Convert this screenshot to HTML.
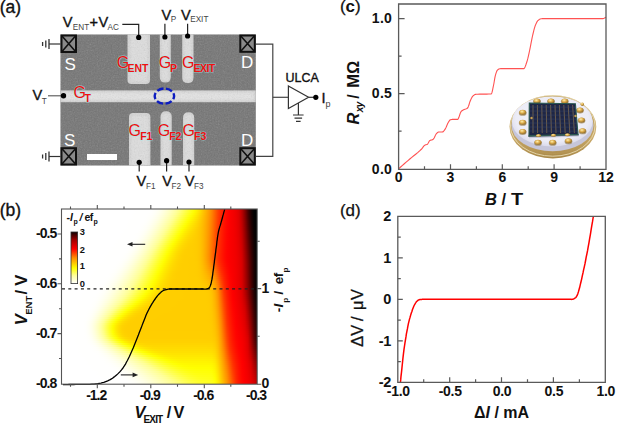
<!DOCTYPE html>
<html><head><meta charset="utf-8"><style>
html,body{margin:0;padding:0;background:#fff;width:617px;height:423px;overflow:hidden}
#wrap{position:relative;width:617px;height:423px}
#hm div{position:absolute;left:0;width:100%;height:2px}
svg{position:absolute;left:0;top:0}
text{font-family:"Liberation Sans",sans-serif}
</style></head><body><div id="wrap">
<div id="hm" style="position:absolute;left:61.5px;top:209.0px;width:195.7px;height:175.2px;overflow:hidden"><div style="top:0px;background:linear-gradient(90deg,#ffffff 0.0px,#ffffff 3.0px,#ffffff 6.0px,#ffffff 9.0px,#ffffff 12.0px,#ffffff 15.0px,#ffffff 18.0px,#ffffff 21.0px,#ffffff 24.0px,#ffffff 27.0px,#ffffff 30.0px,#ffffff 33.0px,#ffffff 36.0px,#ffffff 39.0px,#ffffff 42.0px,#ffffff 45.0px,#ffffff 48.0px,#ffffff 51.0px,#ffffff 54.0px,#ffffff 57.0px,#ffffff 60.0px,#ffffff 63.0px,#ffffff 66.0px,#ffffff 69.0px,#ffffff 72.0px,#fffffe 75.0px,#fffffe 78.0px,#fffffe 81.0px,#fffffe 84.0px,#fffffe 87.0px,#fffffd 90.0px,#fffff9 93.0px,#fffff4 96.0px,#ffffeb 99.0px,#ffffe0 102.0px,#ffffd3 105.0px,#ffffc4 108.0px,#ffffb3 111.0px,#ffffa2 114.0px,#ffff8c 117.0px,#ffff70 120.0px,#ffff54 123.0px,#ffff38 126.0px,#ffff1e 129.0px,#ffff03 132.0px,#fff100 135.0px,#ffde00 138.0px,#ffc800 141.0px,#ffb400 144.0px,#ff9e00 147.0px,#ff8400 150.0px,#ff6200 153.0px,#ff4100 156.0px,#ff2800 159.0px,#ff1600 162.0px,#ff0700 165.0px,#fc0000 168.0px,#f50000 171.0px,#ec0000 174.0px,#dd0000 177.0px,#b80000 180.0px,#830000 183.0px,#440000 186.0px,#170000 189.0px,#000000 192.0px,#000000 195.0px)"></div><div style="top:2px;background:linear-gradient(90deg,#ffffff 0.0px,#ffffff 3.0px,#ffffff 6.0px,#ffffff 9.0px,#ffffff 12.0px,#ffffff 15.0px,#ffffff 18.0px,#ffffff 21.0px,#ffffff 24.0px,#ffffff 27.0px,#ffffff 30.0px,#ffffff 33.0px,#ffffff 36.0px,#ffffff 39.0px,#ffffff 42.0px,#ffffff 45.0px,#ffffff 48.0px,#ffffff 51.0px,#ffffff 54.0px,#ffffff 57.0px,#ffffff 60.0px,#ffffff 63.0px,#ffffff 66.0px,#ffffff 69.0px,#ffffff 72.0px,#fffffe 75.0px,#fffffe 78.0px,#fffffe 81.0px,#fffffe 84.0px,#fffffe 87.0px,#fffffc 90.0px,#fffff8 93.0px,#fffff1 96.0px,#ffffe8 99.0px,#ffffdc 102.0px,#ffffce 105.0px,#ffffbf 108.0px,#ffffae 111.0px,#ffff9c 114.0px,#ffff84 117.0px,#ffff67 120.0px,#ffff4b 123.0px,#ffff30 126.0px,#ffff16 129.0px,#fffc00 132.0px,#ffed00 135.0px,#ffdb00 138.0px,#ffc600 141.0px,#ffb200 144.0px,#ff9c00 147.0px,#ff8200 150.0px,#ff6100 153.0px,#ff4100 156.0px,#ff2700 159.0px,#ff1500 162.0px,#ff0700 165.0px,#fc0000 168.0px,#f50000 171.0px,#ec0000 174.0px,#dd0000 177.0px,#b90000 180.0px,#840000 183.0px,#460000 186.0px,#180000 189.0px,#000000 192.0px,#000000 195.0px)"></div><div style="top:4px;background:linear-gradient(90deg,#ffffff 0.0px,#ffffff 3.0px,#ffffff 6.0px,#ffffff 9.0px,#ffffff 12.0px,#ffffff 15.0px,#ffffff 18.0px,#ffffff 21.0px,#ffffff 24.0px,#ffffff 27.0px,#ffffff 30.0px,#ffffff 33.0px,#ffffff 36.0px,#ffffff 39.0px,#ffffff 42.0px,#ffffff 45.0px,#ffffff 48.0px,#ffffff 51.0px,#ffffff 54.0px,#ffffff 57.0px,#ffffff 60.0px,#ffffff 63.0px,#ffffff 66.0px,#ffffff 69.0px,#fffffe 72.0px,#fffffe 75.0px,#fffffe 78.0px,#fffffe 81.0px,#fffffe 84.0px,#fffffd 87.0px,#fffffb 90.0px,#fffff6 93.0px,#ffffee 96.0px,#ffffe4 99.0px,#ffffd7 102.0px,#ffffc9 105.0px,#ffffb9 108.0px,#ffffa7 111.0px,#ffff95 114.0px,#ffff79 117.0px,#ffff5d 120.0px,#ffff41 123.0px,#ffff26 126.0px,#ffff0c 129.0px,#fff800 132.0px,#ffe900 135.0px,#ffd700 138.0px,#ffc400 141.0px,#ffb000 144.0px,#ff9b00 147.0px,#ff8100 150.0px,#ff6100 153.0px,#ff4000 156.0px,#ff2700 159.0px,#ff1500 162.0px,#ff0700 165.0px,#fc0000 168.0px,#f50000 171.0px,#ec0000 174.0px,#de0000 177.0px,#ba0000 180.0px,#850000 183.0px,#470000 186.0px,#190000 189.0px,#010000 192.0px,#000000 195.0px)"></div><div style="top:6px;background:linear-gradient(90deg,#ffffff 0.0px,#ffffff 3.0px,#ffffff 6.0px,#ffffff 9.0px,#ffffff 12.0px,#ffffff 15.0px,#ffffff 18.0px,#ffffff 21.0px,#ffffff 24.0px,#ffffff 27.0px,#ffffff 30.0px,#ffffff 33.0px,#ffffff 36.0px,#ffffff 39.0px,#ffffff 42.0px,#ffffff 45.0px,#ffffff 48.0px,#ffffff 51.0px,#ffffff 54.0px,#ffffff 57.0px,#ffffff 60.0px,#ffffff 63.0px,#ffffff 66.0px,#ffffff 69.0px,#fffffe 72.0px,#fffffe 75.0px,#fffffe 78.0px,#fffffe 81.0px,#fffffe 84.0px,#fffffc 87.0px,#fffff9 90.0px,#fffff3 93.0px,#ffffea 96.0px,#ffffdf 99.0px,#ffffd2 102.0px,#ffffc3 105.0px,#ffffb2 108.0px,#ffffa0 111.0px,#ffff8a 114.0px,#ffff6e 117.0px,#ffff51 120.0px,#ffff36 123.0px,#ffff1b 126.0px,#ffff02 129.0px,#fff200 132.0px,#ffe400 135.0px,#ffd300 138.0px,#ffc100 141.0px,#ffae00 144.0px,#ff9a00 147.0px,#ff8000 150.0px,#ff6000 153.0px,#ff3f00 156.0px,#ff2600 159.0px,#ff1500 162.0px,#ff0700 165.0px,#fc0000 168.0px,#f50000 171.0px,#ec0000 174.0px,#de0000 177.0px,#bb0000 180.0px,#870000 183.0px,#490000 186.0px,#1b0000 189.0px,#020000 192.0px,#000000 195.0px)"></div><div style="top:8px;background:linear-gradient(90deg,#ffffff 0.0px,#ffffff 3.0px,#ffffff 6.0px,#ffffff 9.0px,#ffffff 12.0px,#ffffff 15.0px,#ffffff 18.0px,#ffffff 21.0px,#ffffff 24.0px,#ffffff 27.0px,#ffffff 30.0px,#ffffff 33.0px,#ffffff 36.0px,#ffffff 39.0px,#ffffff 42.0px,#ffffff 45.0px,#ffffff 48.0px,#ffffff 51.0px,#ffffff 54.0px,#ffffff 57.0px,#ffffff 60.0px,#ffffff 63.0px,#ffffff 66.0px,#ffffff 69.0px,#fffffe 72.0px,#fffffe 75.0px,#fffffe 78.0px,#fffffe 81.0px,#fffffd 84.0px,#fffffb 87.0px,#fffff7 90.0px,#fffff0 93.0px,#ffffe6 96.0px,#ffffda 99.0px,#ffffcc 102.0px,#ffffbc 105.0px,#ffffab 108.0px,#ffff99 111.0px,#ffff7e 114.0px,#ffff62 117.0px,#ffff46 120.0px,#ffff2a 123.0px,#ffff10 126.0px,#fffa00 129.0px,#ffed00 132.0px,#ffe000 135.0px,#ffd000 138.0px,#ffbf00 141.0px,#ffad00 144.0px,#ff9900 147.0px,#ff7f00 150.0px,#ff5f00 153.0px,#ff3e00 156.0px,#ff2600 159.0px,#ff1400 162.0px,#ff0600 165.0px,#fc0000 168.0px,#f50000 171.0px,#ed0000 174.0px,#de0000 177.0px,#bc0000 180.0px,#880000 183.0px,#4b0000 186.0px,#1c0000 189.0px,#030000 192.0px,#000000 195.0px)"></div><div style="top:10px;background:linear-gradient(90deg,#ffffff 0.0px,#ffffff 3.0px,#ffffff 6.0px,#ffffff 9.0px,#ffffff 12.0px,#ffffff 15.0px,#ffffff 18.0px,#ffffff 21.0px,#ffffff 24.0px,#ffffff 27.0px,#ffffff 30.0px,#ffffff 33.0px,#ffffff 36.0px,#ffffff 39.0px,#ffffff 42.0px,#ffffff 45.0px,#ffffff 48.0px,#ffffff 51.0px,#ffffff 54.0px,#ffffff 57.0px,#ffffff 60.0px,#ffffff 63.0px,#ffffff 66.0px,#fffffe 69.0px,#fffffe 72.0px,#fffffe 75.0px,#fffffe 78.0px,#fffffe 81.0px,#fffffd 84.0px,#fffffa 87.0px,#fffff4 90.0px,#ffffec 93.0px,#ffffe2 96.0px,#ffffd4 99.0px,#ffffc5 102.0px,#ffffb5 105.0px,#ffffa3 108.0px,#ffff8f 111.0px,#ffff72 114.0px,#ffff56 117.0px,#ffff3a 120.0px,#ffff1f 123.0px,#ffff05 126.0px,#fff500 129.0px,#ffe900 132.0px,#ffdc00 135.0px,#ffcd00 138.0px,#ffbd00 141.0px,#ffac00 144.0px,#ff9800 147.0px,#ff7e00 150.0px,#ff5e00 153.0px,#ff3e00 156.0px,#ff2500 159.0px,#ff1400 162.0px,#ff0600 165.0px,#fc0000 168.0px,#f50000 171.0px,#ed0000 174.0px,#df0000 177.0px,#bd0000 180.0px,#8a0000 183.0px,#4e0000 186.0px,#1e0000 189.0px,#040000 192.0px,#000000 195.0px)"></div><div style="top:12px;background:linear-gradient(90deg,#ffffff 0.0px,#ffffff 3.0px,#ffffff 6.0px,#ffffff 9.0px,#ffffff 12.0px,#ffffff 15.0px,#ffffff 18.0px,#ffffff 21.0px,#ffffff 24.0px,#ffffff 27.0px,#ffffff 30.0px,#ffffff 33.0px,#ffffff 36.0px,#ffffff 39.0px,#ffffff 42.0px,#ffffff 45.0px,#ffffff 48.0px,#ffffff 51.0px,#ffffff 54.0px,#ffffff 57.0px,#ffffff 60.0px,#ffffff 63.0px,#ffffff 66.0px,#fffffe 69.0px,#fffffe 72.0px,#fffffe 75.0px,#fffffe 78.0px,#fffffe 81.0px,#fffffc 84.0px,#fffff8 87.0px,#fffff2 90.0px,#ffffe8 93.0px,#ffffdd 96.0px,#ffffcf 99.0px,#ffffbf 102.0px,#ffffae 105.0px,#ffff9c 108.0px,#ffff83 111.0px,#ffff66 114.0px,#ffff4a 117.0px,#ffff2e 120.0px,#ffff14 123.0px,#fffc00 126.0px,#ffef00 129.0px,#ffe400 132.0px,#ffd800 135.0px,#ffcb00 138.0px,#ffbc00 141.0px,#ffab00 144.0px,#ff9700 147.0px,#ff7d00 150.0px,#ff5d00 153.0px,#ff3d00 156.0px,#ff2500 159.0px,#ff1400 162.0px,#ff0600 165.0px,#fc0000 168.0px,#f50000 171.0px,#ed0000 174.0px,#df0000 177.0px,#bf0000 180.0px,#8c0000 183.0px,#500000 186.0px,#200000 189.0px,#050000 192.0px,#000000 195.0px)"></div><div style="top:14px;background:linear-gradient(90deg,#ffffff 0.0px,#ffffff 3.0px,#ffffff 6.0px,#ffffff 9.0px,#ffffff 12.0px,#ffffff 15.0px,#ffffff 18.0px,#ffffff 21.0px,#ffffff 24.0px,#ffffff 27.0px,#ffffff 30.0px,#ffffff 33.0px,#ffffff 36.0px,#ffffff 39.0px,#ffffff 42.0px,#ffffff 45.0px,#ffffff 48.0px,#ffffff 51.0px,#ffffff 54.0px,#ffffff 57.0px,#ffffff 60.0px,#ffffff 63.0px,#fffffe 66.0px,#fffffe 69.0px,#fffffe 72.0px,#fffffe 75.0px,#fffffe 78.0px,#fffffd 81.0px,#fffffb 84.0px,#fffff6 87.0px,#ffffee 90.0px,#ffffe4 93.0px,#ffffd7 96.0px,#ffffc8 99.0px,#ffffb8 102.0px,#ffffa6 105.0px,#ffff93 108.0px,#ffff77 111.0px,#ffff5a 114.0px,#ffff3e 117.0px,#ffff22 120.0px,#ffff09 123.0px,#fff600 126.0px,#ffea00 129.0px,#ffe000 132.0px,#ffd500 135.0px,#ffc900 138.0px,#ffbb00 141.0px,#ffaa00 144.0px,#ff9600 147.0px,#ff7c00 150.0px,#ff5c00 153.0px,#ff3c00 156.0px,#ff2400 159.0px,#ff1300 162.0px,#ff0600 165.0px,#fc0000 168.0px,#f50000 171.0px,#ed0000 174.0px,#e00000 177.0px,#c00000 180.0px,#8d0000 183.0px,#520000 186.0px,#210000 189.0px,#060000 192.0px,#000000 195.0px)"></div><div style="top:16px;background:linear-gradient(90deg,#ffffff 0.0px,#ffffff 3.0px,#ffffff 6.0px,#ffffff 9.0px,#ffffff 12.0px,#ffffff 15.0px,#ffffff 18.0px,#ffffff 21.0px,#ffffff 24.0px,#ffffff 27.0px,#ffffff 30.0px,#ffffff 33.0px,#ffffff 36.0px,#ffffff 39.0px,#ffffff 42.0px,#ffffff 45.0px,#ffffff 48.0px,#ffffff 51.0px,#ffffff 54.0px,#ffffff 57.0px,#ffffff 60.0px,#ffffff 63.0px,#fffffe 66.0px,#fffffe 69.0px,#fffffe 72.0px,#fffffe 75.0px,#fffffe 78.0px,#fffffc 81.0px,#fffff9 84.0px,#fffff3 87.0px,#ffffea 90.0px,#ffffdf 93.0px,#ffffd1 96.0px,#ffffc2 99.0px,#ffffb1 102.0px,#ffff9f 105.0px,#ffff87 108.0px,#ffff6b 111.0px,#ffff4e 114.0px,#ffff32 117.0px,#ffff17 120.0px,#fffe00 123.0px,#fff100 126.0px,#ffe600 129.0px,#ffdc00 132.0px,#ffd300 135.0px,#ffc800 138.0px,#ffba00 141.0px,#ffa900 144.0px,#ff9600 147.0px,#ff7b00 150.0px,#ff5b00 153.0px,#ff3b00 156.0px,#ff2400 159.0px,#ff1300 162.0px,#ff0500 165.0px,#fc0000 168.0px,#f60000 171.0px,#ed0000 174.0px,#e00000 177.0px,#c10000 180.0px,#8f0000 183.0px,#540000 186.0px,#230000 189.0px,#070000 192.0px,#000000 195.0px)"></div><div style="top:18px;background:linear-gradient(90deg,#ffffff 0.0px,#ffffff 3.0px,#ffffff 6.0px,#ffffff 9.0px,#ffffff 12.0px,#ffffff 15.0px,#ffffff 18.0px,#ffffff 21.0px,#ffffff 24.0px,#ffffff 27.0px,#ffffff 30.0px,#ffffff 33.0px,#ffffff 36.0px,#ffffff 39.0px,#ffffff 42.0px,#ffffff 45.0px,#ffffff 48.0px,#ffffff 51.0px,#ffffff 54.0px,#ffffff 57.0px,#ffffff 60.0px,#ffffff 63.0px,#fffffe 66.0px,#fffffe 69.0px,#fffffe 72.0px,#fffffe 75.0px,#fffffe 78.0px,#fffffb 81.0px,#fffff7 84.0px,#fffff0 87.0px,#ffffe6 90.0px,#ffffda 93.0px,#ffffcb 96.0px,#ffffbb 99.0px,#ffffaa 102.0px,#ffff97 105.0px,#ffff7b 108.0px,#ffff5e 111.0px,#ffff42 114.0px,#ffff26 117.0px,#ffff0c 120.0px,#fff800 123.0px,#ffec00 126.0px,#ffe200 129.0px,#ffd900 132.0px,#ffd000 135.0px,#ffc600 138.0px,#ffb900 141.0px,#ffa900 144.0px,#ff9500 147.0px,#ff7a00 150.0px,#ff5a00 153.0px,#ff3a00 156.0px,#ff2300 159.0px,#ff1200 162.0px,#ff0500 165.0px,#fc0000 168.0px,#f60000 171.0px,#ee0000 174.0px,#e00000 177.0px,#c30000 180.0px,#910000 183.0px,#560000 186.0px,#250000 189.0px,#080000 192.0px,#000000 195.0px)"></div><div style="top:20px;background:linear-gradient(90deg,#ffffff 0.0px,#ffffff 3.0px,#ffffff 6.0px,#ffffff 9.0px,#ffffff 12.0px,#ffffff 15.0px,#ffffff 18.0px,#ffffff 21.0px,#ffffff 24.0px,#ffffff 27.0px,#ffffff 30.0px,#ffffff 33.0px,#ffffff 36.0px,#ffffff 39.0px,#ffffff 42.0px,#ffffff 45.0px,#ffffff 48.0px,#ffffff 51.0px,#ffffff 54.0px,#ffffff 57.0px,#ffffff 60.0px,#fffffe 63.0px,#fffffe 66.0px,#fffffe 69.0px,#fffffe 72.0px,#fffffe 75.0px,#fffffd 78.0px,#fffffa 81.0px,#fffff5 84.0px,#ffffec 87.0px,#ffffe1 90.0px,#ffffd4 93.0px,#ffffc5 96.0px,#ffffb4 99.0px,#ffffa2 102.0px,#ffff8c 105.0px,#ffff6f 108.0px,#ffff52 111.0px,#ffff36 114.0px,#ffff1b 117.0px,#ffff01 120.0px,#fff200 123.0px,#ffe700 126.0px,#ffde00 129.0px,#ffd600 132.0px,#ffce00 135.0px,#ffc600 138.0px,#ffb900 141.0px,#ffa800 144.0px,#ff9500 147.0px,#ff7a00 150.0px,#ff5900 153.0px,#ff3900 156.0px,#ff2300 159.0px,#ff1200 162.0px,#ff0500 165.0px,#fb0000 168.0px,#f60000 171.0px,#ee0000 174.0px,#e10000 177.0px,#c40000 180.0px,#920000 183.0px,#580000 186.0px,#260000 189.0px,#090000 192.0px,#000000 195.0px)"></div><div style="top:22px;background:linear-gradient(90deg,#ffffff 0.0px,#ffffff 3.0px,#ffffff 6.0px,#ffffff 9.0px,#ffffff 12.0px,#ffffff 15.0px,#ffffff 18.0px,#ffffff 21.0px,#ffffff 24.0px,#ffffff 27.0px,#ffffff 30.0px,#ffffff 33.0px,#ffffff 36.0px,#ffffff 39.0px,#ffffff 42.0px,#ffffff 45.0px,#ffffff 48.0px,#ffffff 51.0px,#ffffff 54.0px,#ffffff 57.0px,#ffffff 60.0px,#fffffe 63.0px,#fffffe 66.0px,#fffffe 69.0px,#fffffe 72.0px,#fffffe 75.0px,#fffffc 78.0px,#fffff8 81.0px,#fffff2 84.0px,#ffffe8 87.0px,#ffffdc 90.0px,#ffffce 93.0px,#ffffbe 96.0px,#ffffad 99.0px,#ffff9a 102.0px,#ffff80 105.0px,#ffff63 108.0px,#ffff46 111.0px,#ffff2a 114.0px,#ffff0f 117.0px,#fffa00 120.0px,#ffed00 123.0px,#ffe300 126.0px,#ffda00 129.0px,#ffd400 132.0px,#ffcd00 135.0px,#ffc500 138.0px,#ffb900 141.0px,#ffa800 144.0px,#ff9400 147.0px,#ff7900 150.0px,#ff5900 153.0px,#ff3800 156.0px,#ff2300 159.0px,#ff1200 162.0px,#ff0500 165.0px,#fb0000 168.0px,#f60000 171.0px,#ee0000 174.0px,#e10000 177.0px,#c50000 180.0px,#940000 183.0px,#5b0000 186.0px,#280000 189.0px,#0a0000 192.0px,#000000 195.0px)"></div><div style="top:24px;background:linear-gradient(90deg,#ffffff 0.0px,#ffffff 3.0px,#ffffff 6.0px,#ffffff 9.0px,#ffffff 12.0px,#ffffff 15.0px,#ffffff 18.0px,#ffffff 21.0px,#ffffff 24.0px,#ffffff 27.0px,#ffffff 30.0px,#ffffff 33.0px,#ffffff 36.0px,#ffffff 39.0px,#ffffff 42.0px,#ffffff 45.0px,#ffffff 48.0px,#ffffff 51.0px,#ffffff 54.0px,#ffffff 57.0px,#fffffe 60.0px,#fffffe 63.0px,#fffffe 66.0px,#fffffe 69.0px,#fffffe 72.0px,#fffffd 75.0px,#fffffb 78.0px,#fffff6 81.0px,#ffffee 84.0px,#ffffe4 87.0px,#ffffd7 90.0px,#ffffc8 93.0px,#ffffb7 96.0px,#ffffa5 99.0px,#ffff91 102.0px,#ffff74 105.0px,#ffff57 108.0px,#ffff3a 111.0px,#ffff1e 114.0px,#ffff05 117.0px,#fff400 120.0px,#ffe800 123.0px,#ffdf00 126.0px,#ffd700 129.0px,#ffd200 132.0px,#ffcc00 135.0px,#ffc500 138.0px,#ffb800 141.0px,#ffa800 144.0px,#ff9400 147.0px,#ff7800 150.0px,#ff5800 153.0px,#ff3800 156.0px,#ff2200 159.0px,#ff1100 162.0px,#ff0400 165.0px,#fb0000 168.0px,#f60000 171.0px,#ee0000 174.0px,#e20000 177.0px,#c70000 180.0px,#960000 183.0px,#5d0000 186.0px,#2a0000 189.0px,#0b0000 192.0px,#000000 195.0px)"></div><div style="top:26px;background:linear-gradient(90deg,#ffffff 0.0px,#ffffff 3.0px,#ffffff 6.0px,#ffffff 9.0px,#ffffff 12.0px,#ffffff 15.0px,#ffffff 18.0px,#ffffff 21.0px,#ffffff 24.0px,#ffffff 27.0px,#ffffff 30.0px,#ffffff 33.0px,#ffffff 36.0px,#ffffff 39.0px,#ffffff 42.0px,#ffffff 45.0px,#ffffff 48.0px,#ffffff 51.0px,#ffffff 54.0px,#ffffff 57.0px,#fffffe 60.0px,#fffffe 63.0px,#fffffe 66.0px,#fffffe 69.0px,#fffffe 72.0px,#fffffd 75.0px,#fffff9 78.0px,#fffff3 81.0px,#ffffea 84.0px,#ffffdf 87.0px,#ffffd1 90.0px,#ffffc1 93.0px,#ffffb0 96.0px,#ffff9d 99.0px,#ffff85 102.0px,#ffff67 105.0px,#ffff4a 108.0px,#ffff2e 111.0px,#ffff13 114.0px,#fffb00 117.0px,#ffef00 120.0px,#ffe400 123.0px,#ffdb00 126.0px,#ffd500 129.0px,#ffd000 132.0px,#ffcc00 135.0px,#ffc500 138.0px,#ffb800 141.0px,#ffa700 144.0px,#ff9300 147.0px,#ff7700 150.0px,#ff5700 153.0px,#ff3700 156.0px,#ff2200 159.0px,#ff1100 162.0px,#ff0400 165.0px,#fb0000 168.0px,#f60000 171.0px,#ee0000 174.0px,#e20000 177.0px,#c80000 180.0px,#970000 183.0px,#5f0000 186.0px,#2b0000 189.0px,#0c0000 192.0px,#000000 195.0px)"></div><div style="top:28px;background:linear-gradient(90deg,#ffffff 0.0px,#ffffff 3.0px,#ffffff 6.0px,#ffffff 9.0px,#ffffff 12.0px,#ffffff 15.0px,#ffffff 18.0px,#ffffff 21.0px,#ffffff 24.0px,#ffffff 27.0px,#ffffff 30.0px,#ffffff 33.0px,#ffffff 36.0px,#ffffff 39.0px,#ffffff 42.0px,#ffffff 45.0px,#ffffff 48.0px,#ffffff 51.0px,#ffffff 54.0px,#ffffff 57.0px,#fffffe 60.0px,#fffffe 63.0px,#fffffe 66.0px,#fffffe 69.0px,#fffffe 72.0px,#fffffc 75.0px,#fffff7 78.0px,#fffff0 81.0px,#ffffe6 84.0px,#ffffda 87.0px,#ffffcb 90.0px,#ffffba 93.0px,#ffffa8 96.0px,#ffff96 99.0px,#ffff78 102.0px,#ffff5b 105.0px,#ffff3e 108.0px,#ffff22 111.0px,#ffff08 114.0px,#fff600 117.0px,#ffea00 120.0px,#ffe000 123.0px,#ffd800 126.0px,#ffd300 129.0px,#ffcf00 132.0px,#ffcb00 135.0px,#ffc500 138.0px,#ffb800 141.0px,#ffa700 144.0px,#ff9200 147.0px,#ff7600 150.0px,#ff5600 153.0px,#ff3600 156.0px,#ff2100 159.0px,#ff1000 162.0px,#ff0400 165.0px,#fb0000 168.0px,#f60000 171.0px,#ef0000 174.0px,#e30000 177.0px,#c90000 180.0px,#990000 183.0px,#610000 186.0px,#2d0000 189.0px,#0d0000 192.0px,#000000 195.0px)"></div><div style="top:30px;background:linear-gradient(90deg,#ffffff 0.0px,#ffffff 3.0px,#ffffff 6.0px,#ffffff 9.0px,#ffffff 12.0px,#ffffff 15.0px,#ffffff 18.0px,#ffffff 21.0px,#ffffff 24.0px,#ffffff 27.0px,#ffffff 30.0px,#ffffff 33.0px,#ffffff 36.0px,#ffffff 39.0px,#ffffff 42.0px,#ffffff 45.0px,#ffffff 48.0px,#ffffff 51.0px,#ffffff 54.0px,#fffffe 57.0px,#fffffe 60.0px,#fffffe 63.0px,#fffffe 66.0px,#fffffe 69.0px,#fffffd 72.0px,#fffffa 75.0px,#fffff5 78.0px,#ffffec 81.0px,#ffffe1 84.0px,#ffffd4 87.0px,#ffffc4 90.0px,#ffffb3 93.0px,#ffffa1 96.0px,#ffff8a 99.0px,#ffff6c 102.0px,#ffff4f 105.0px,#ffff32 108.0px,#ffff17 111.0px,#fffd00 114.0px,#fff000 117.0px,#ffe500 120.0px,#ffdc00 123.0px,#ffd500 126.0px,#ffd100 129.0px,#ffce00 132.0px,#ffcb00 135.0px,#ffc500 138.0px,#ffb800 141.0px,#ffa700 144.0px,#ff9200 147.0px,#ff7500 150.0px,#ff5500 153.0px,#ff3500 156.0px,#ff2100 159.0px,#ff1000 162.0px,#ff0400 165.0px,#fb0000 168.0px,#f60000 171.0px,#ef0000 174.0px,#e30000 177.0px,#cb0000 180.0px,#9b0000 183.0px,#630000 186.0px,#2f0000 189.0px,#0f0000 192.0px,#000000 195.0px)"></div><div style="top:32px;background:linear-gradient(90deg,#ffffff 0.0px,#ffffff 3.0px,#ffffff 6.0px,#ffffff 9.0px,#ffffff 12.0px,#ffffff 15.0px,#ffffff 18.0px,#ffffff 21.0px,#ffffff 24.0px,#ffffff 27.0px,#ffffff 30.0px,#ffffff 33.0px,#ffffff 36.0px,#ffffff 39.0px,#ffffff 42.0px,#ffffff 45.0px,#ffffff 48.0px,#ffffff 51.0px,#ffffff 54.0px,#fffffe 57.0px,#fffffe 60.0px,#fffffe 63.0px,#fffffe 66.0px,#fffffe 69.0px,#fffffc 72.0px,#fffff8 75.0px,#fffff2 78.0px,#ffffe8 81.0px,#ffffdc 84.0px,#ffffce 87.0px,#ffffbd 90.0px,#ffffac 93.0px,#ffff99 96.0px,#ffff7d 99.0px,#ffff60 102.0px,#ffff42 105.0px,#ffff26 108.0px,#ffff0b 111.0px,#fff700 114.0px,#ffeb00 117.0px,#ffe100 120.0px,#ffd900 123.0px,#ffd300 126.0px,#ffd000 129.0px,#ffce00 132.0px,#ffcb00 135.0px,#ffc500 138.0px,#ffb800 141.0px,#ffa600 144.0px,#ff9100 147.0px,#ff7500 150.0px,#ff5400 153.0px,#ff3400 156.0px,#ff2000 159.0px,#ff1000 162.0px,#ff0300 165.0px,#fb0000 168.0px,#f60000 171.0px,#ef0000 174.0px,#e30000 177.0px,#cc0000 180.0px,#9c0000 183.0px,#650000 186.0px,#310000 189.0px,#100000 192.0px,#000000 195.0px)"></div><div style="top:34px;background:linear-gradient(90deg,#ffffff 0.0px,#ffffff 3.0px,#ffffff 6.0px,#ffffff 9.0px,#ffffff 12.0px,#ffffff 15.0px,#ffffff 18.0px,#ffffff 21.0px,#ffffff 24.0px,#ffffff 27.0px,#ffffff 30.0px,#ffffff 33.0px,#ffffff 36.0px,#ffffff 39.0px,#ffffff 42.0px,#ffffff 45.0px,#ffffff 48.0px,#ffffff 51.0px,#fffffe 54.0px,#fffffe 57.0px,#fffffe 60.0px,#fffffe 63.0px,#fffffe 66.0px,#fffffd 69.0px,#fffffb 72.0px,#fffff6 75.0px,#ffffee 78.0px,#ffffe4 81.0px,#ffffd7 84.0px,#ffffc7 87.0px,#ffffb6 90.0px,#ffffa4 93.0px,#ffff8e 96.0px,#ffff71 99.0px,#ffff53 102.0px,#ffff36 105.0px,#ffff1a 108.0px,#ffff00 111.0px,#fff200 114.0px,#ffe600 117.0px,#ffdd00 120.0px,#ffd600 123.0px,#ffd100 126.0px,#ffcf00 129.0px,#ffcd00 132.0px,#ffcb00 135.0px,#ffc500 138.0px,#ffb800 141.0px,#ffa600 144.0px,#ff9100 147.0px,#ff7400 150.0px,#ff5300 153.0px,#ff3300 156.0px,#ff2000 159.0px,#ff0f00 162.0px,#ff0300 165.0px,#fb0000 168.0px,#f60000 171.0px,#ef0000 174.0px,#e40000 177.0px,#cd0000 180.0px,#9e0000 183.0px,#680000 186.0px,#330000 189.0px,#110000 192.0px,#000000 195.0px)"></div><div style="top:36px;background:linear-gradient(90deg,#ffffff 0.0px,#ffffff 3.0px,#ffffff 6.0px,#ffffff 9.0px,#ffffff 12.0px,#ffffff 15.0px,#ffffff 18.0px,#ffffff 21.0px,#ffffff 24.0px,#ffffff 27.0px,#ffffff 30.0px,#ffffff 33.0px,#ffffff 36.0px,#ffffff 39.0px,#ffffff 42.0px,#ffffff 45.0px,#ffffff 48.0px,#ffffff 51.0px,#fffffe 54.0px,#fffffe 57.0px,#fffffe 60.0px,#fffffe 63.0px,#fffffe 66.0px,#fffffd 69.0px,#fffff9 72.0px,#fffff3 75.0px,#ffffea 78.0px,#ffffdf 81.0px,#ffffd1 84.0px,#ffffc1 87.0px,#ffffaf 90.0px,#ffff9c 93.0px,#ffff82 96.0px,#ffff64 99.0px,#ffff47 102.0px,#ffff2a 105.0px,#ffff0f 108.0px,#fff900 111.0px,#ffed00 114.0px,#ffe200 117.0px,#ffd900 120.0px,#ffd400 123.0px,#ffd000 126.0px,#ffce00 129.0px,#ffcd00 132.0px,#ffcb00 135.0px,#ffc500 138.0px,#ffb800 141.0px,#ffa600 144.0px,#ff9000 147.0px,#ff7300 150.0px,#ff5300 153.0px,#ff3300 156.0px,#ff1f00 159.0px,#ff0f00 162.0px,#ff0300 165.0px,#fb0000 168.0px,#f60000 171.0px,#f00000 174.0px,#e40000 177.0px,#cf0000 180.0px,#a00000 183.0px,#6a0000 186.0px,#350000 189.0px,#120000 192.0px,#000000 195.0px)"></div><div style="top:38px;background:linear-gradient(90deg,#ffffff 0.0px,#ffffff 3.0px,#ffffff 6.0px,#ffffff 9.0px,#ffffff 12.0px,#ffffff 15.0px,#ffffff 18.0px,#ffffff 21.0px,#ffffff 24.0px,#ffffff 27.0px,#ffffff 30.0px,#ffffff 33.0px,#ffffff 36.0px,#ffffff 39.0px,#ffffff 42.0px,#ffffff 45.0px,#ffffff 48.0px,#fffffe 51.0px,#fffffe 54.0px,#fffffe 57.0px,#fffffe 60.0px,#fffffe 63.0px,#fffffe 66.0px,#fffffc 69.0px,#fffff7 72.0px,#fffff0 75.0px,#ffffe6 78.0px,#ffffd9 81.0px,#ffffca 84.0px,#ffffba 87.0px,#ffffa7 90.0px,#ffff94 93.0px,#ffff76 96.0px,#ffff58 99.0px,#ffff3b 102.0px,#ffff1f 105.0px,#ffff04 108.0px,#fff400 111.0px,#ffe800 114.0px,#ffde00 117.0px,#ffd700 120.0px,#ffd200 123.0px,#ffcf00 126.0px,#ffce00 129.0px,#ffcd00 132.0px,#ffcb00 135.0px,#ffc500 138.0px,#ffb800 141.0px,#ffa500 144.0px,#ff9000 147.0px,#ff7200 150.0px,#ff5200 153.0px,#ff3200 156.0px,#ff1f00 159.0px,#ff0e00 162.0px,#ff0300 165.0px,#fb0000 168.0px,#f60000 171.0px,#f00000 174.0px,#e50000 177.0px,#d00000 180.0px,#a10000 183.0px,#6c0000 186.0px,#370000 189.0px,#130000 192.0px,#000000 195.0px)"></div><div style="top:40px;background:linear-gradient(90deg,#ffffff 0.0px,#ffffff 3.0px,#ffffff 6.0px,#ffffff 9.0px,#ffffff 12.0px,#ffffff 15.0px,#ffffff 18.0px,#ffffff 21.0px,#ffffff 24.0px,#ffffff 27.0px,#ffffff 30.0px,#ffffff 33.0px,#ffffff 36.0px,#ffffff 39.0px,#ffffff 42.0px,#ffffff 45.0px,#ffffff 48.0px,#fffffe 51.0px,#fffffe 54.0px,#fffffe 57.0px,#fffffe 60.0px,#fffffe 63.0px,#fffffd 66.0px,#fffffa 69.0px,#fffff5 72.0px,#ffffec 75.0px,#ffffe1 78.0px,#ffffd3 81.0px,#ffffc4 84.0px,#ffffb2 87.0px,#ffffa0 90.0px,#ffff88 93.0px,#ffff6a 96.0px,#ffff4d 99.0px,#ffff30 102.0px,#ffff14 105.0px,#fffc00 108.0px,#ffef00 111.0px,#ffe400 114.0px,#ffdb00 117.0px,#ffd400 120.0px,#ffd000 123.0px,#ffce00 126.0px,#ffce00 129.0px,#ffcd00 132.0px,#ffcb00 135.0px,#ffc500 138.0px,#ffb700 141.0px,#ffa500 144.0px,#ff8f00 147.0px,#ff7100 150.0px,#ff5100 153.0px,#ff3100 156.0px,#ff1e00 159.0px,#ff0e00 162.0px,#ff0200 165.0px,#fb0000 168.0px,#f60000 171.0px,#f00000 174.0px,#e50000 177.0px,#d10000 180.0px,#a30000 183.0px,#6e0000 186.0px,#390000 189.0px,#140000 192.0px,#000000 195.0px)"></div><div style="top:42px;background:linear-gradient(90deg,#ffffff 0.0px,#ffffff 3.0px,#ffffff 6.0px,#ffffff 9.0px,#ffffff 12.0px,#ffffff 15.0px,#ffffff 18.0px,#ffffff 21.0px,#ffffff 24.0px,#ffffff 27.0px,#ffffff 30.0px,#ffffff 33.0px,#ffffff 36.0px,#ffffff 39.0px,#ffffff 42.0px,#ffffff 45.0px,#fffffe 48.0px,#fffffe 51.0px,#fffffe 54.0px,#fffffe 57.0px,#fffffe 60.0px,#fffffe 63.0px,#fffffc 66.0px,#fffff8 69.0px,#fffff1 72.0px,#ffffe8 75.0px,#ffffdc 78.0px,#ffffcd 81.0px,#ffffbd 84.0px,#ffffab 87.0px,#ffff98 90.0px,#ffff7c 93.0px,#ffff5f 96.0px,#ffff42 99.0px,#ffff25 102.0px,#ffff0b 105.0px,#fff700 108.0px,#ffeb00 111.0px,#ffe000 114.0px,#ffd800 117.0px,#ffd300 120.0px,#ffcf00 123.0px,#ffce00 126.0px,#ffce00 129.0px,#ffcd00 132.0px,#ffcb00 135.0px,#ffc500 138.0px,#ffb700 141.0px,#ffa500 144.0px,#ff8f00 147.0px,#ff7000 150.0px,#ff5000 153.0px,#ff3100 156.0px,#ff1e00 159.0px,#ff0e00 162.0px,#ff0200 165.0px,#fb0000 168.0px,#f60000 171.0px,#f00000 174.0px,#e50000 177.0px,#d30000 180.0px,#a50000 183.0px,#700000 186.0px,#3a0000 189.0px,#150000 192.0px,#000000 195.0px)"></div><div style="top:44px;background:linear-gradient(90deg,#ffffff 0.0px,#ffffff 3.0px,#ffffff 6.0px,#ffffff 9.0px,#ffffff 12.0px,#ffffff 15.0px,#ffffff 18.0px,#ffffff 21.0px,#ffffff 24.0px,#ffffff 27.0px,#ffffff 30.0px,#ffffff 33.0px,#ffffff 36.0px,#ffffff 39.0px,#ffffff 42.0px,#ffffff 45.0px,#fffffe 48.0px,#fffffe 51.0px,#fffffe 54.0px,#fffffe 57.0px,#fffffe 60.0px,#fffffd 63.0px,#fffffa 66.0px,#fffff5 69.0px,#ffffed 72.0px,#ffffe3 75.0px,#ffffd6 78.0px,#ffffc7 81.0px,#ffffb6 84.0px,#ffffa4 87.0px,#ffff8e 90.0px,#ffff71 93.0px,#ffff54 96.0px,#ffff37 99.0px,#ffff1c 102.0px,#ffff02 105.0px,#fff300 108.0px,#ffe700 111.0px,#ffdd00 114.0px,#ffd600 117.0px,#ffd100 120.0px,#ffcf00 123.0px,#ffce00 126.0px,#ffce00 129.0px,#ffcd00 132.0px,#ffcb00 135.0px,#ffc500 138.0px,#ffb700 141.0px,#ffa400 144.0px,#ff8e00 147.0px,#ff7000 150.0px,#ff4f00 153.0px,#ff3000 156.0px,#ff1d00 159.0px,#ff0d00 162.0px,#ff0200 165.0px,#fb0000 168.0px,#f60000 171.0px,#f00000 174.0px,#e60000 177.0px,#d40000 180.0px,#a60000 183.0px,#720000 186.0px,#3c0000 189.0px,#160000 192.0px,#000000 195.0px)"></div><div style="top:46px;background:linear-gradient(90deg,#ffffff 0.0px,#ffffff 3.0px,#ffffff 6.0px,#ffffff 9.0px,#ffffff 12.0px,#ffffff 15.0px,#ffffff 18.0px,#ffffff 21.0px,#ffffff 24.0px,#ffffff 27.0px,#ffffff 30.0px,#ffffff 33.0px,#ffffff 36.0px,#ffffff 39.0px,#ffffff 42.0px,#fffffe 45.0px,#fffffe 48.0px,#fffffe 51.0px,#fffffe 54.0px,#fffffe 57.0px,#fffffe 60.0px,#fffffc 63.0px,#fffff8 66.0px,#fffff2 69.0px,#ffffe9 72.0px,#ffffdd 75.0px,#ffffd0 78.0px,#ffffc0 81.0px,#ffffaf 84.0px,#ffff9c 87.0px,#ffff83 90.0px,#ffff67 93.0px,#ffff4a 96.0px,#ffff2e 99.0px,#ffff13 102.0px,#fffb00 105.0px,#ffef00 108.0px,#ffe400 111.0px,#ffdb00 114.0px,#ffd400 117.0px,#ffd000 120.0px,#ffce00 123.0px,#ffce00 126.0px,#ffce00 129.0px,#ffcd00 132.0px,#ffcb00 135.0px,#ffc500 138.0px,#ffb700 141.0px,#ffa400 144.0px,#ff8e00 147.0px,#ff7000 150.0px,#ff4f00 153.0px,#ff3000 156.0px,#ff1d00 159.0px,#ff0d00 162.0px,#ff0200 165.0px,#fb0000 168.0px,#f60000 171.0px,#f10000 174.0px,#e60000 177.0px,#d50000 180.0px,#a80000 183.0px,#750000 186.0px,#3e0000 189.0px,#170000 192.0px,#000000 195.0px)"></div><div style="top:48px;background:linear-gradient(90deg,#ffffff 0.0px,#ffffff 3.0px,#ffffff 6.0px,#ffffff 9.0px,#ffffff 12.0px,#ffffff 15.0px,#ffffff 18.0px,#ffffff 21.0px,#ffffff 24.0px,#ffffff 27.0px,#ffffff 30.0px,#ffffff 33.0px,#ffffff 36.0px,#ffffff 39.0px,#ffffff 42.0px,#fffffe 45.0px,#fffffe 48.0px,#fffffe 51.0px,#fffffe 54.0px,#fffffe 57.0px,#fffffd 60.0px,#fffffb 63.0px,#fffff6 66.0px,#ffffee 69.0px,#ffffe4 72.0px,#ffffd8 75.0px,#ffffc9 78.0px,#ffffb9 81.0px,#ffffa8 84.0px,#ffff95 87.0px,#ffff79 90.0px,#ffff5c 93.0px,#ffff40 96.0px,#ffff24 99.0px,#ffff0a 102.0px,#fff700 105.0px,#ffeb00 108.0px,#ffe100 111.0px,#ffd900 114.0px,#ffd300 117.0px,#ffd000 120.0px,#ffce00 123.0px,#ffce00 126.0px,#ffcd00 129.0px,#ffcd00 132.0px,#ffcb00 135.0px,#ffc500 138.0px,#ffb800 141.0px,#ffa500 144.0px,#ff8f00 147.0px,#ff7000 150.0px,#ff5000 153.0px,#ff3000 156.0px,#ff1d00 159.0px,#ff0d00 162.0px,#ff0200 165.0px,#fb0000 168.0px,#f60000 171.0px,#f10000 174.0px,#e70000 177.0px,#d60000 180.0px,#a90000 183.0px,#760000 186.0px,#400000 189.0px,#180000 192.0px,#000000 195.0px)"></div><div style="top:50px;background:linear-gradient(90deg,#ffffff 0.0px,#ffffff 3.0px,#ffffff 6.0px,#ffffff 9.0px,#ffffff 12.0px,#ffffff 15.0px,#ffffff 18.0px,#ffffff 21.0px,#ffffff 24.0px,#ffffff 27.0px,#ffffff 30.0px,#ffffff 33.0px,#ffffff 36.0px,#ffffff 39.0px,#fffffe 42.0px,#fffffe 45.0px,#fffffe 48.0px,#fffffe 51.0px,#fffffe 54.0px,#fffffe 57.0px,#fffffc 60.0px,#fffff9 63.0px,#fffff3 66.0px,#ffffea 69.0px,#ffffdf 72.0px,#ffffd2 75.0px,#ffffc3 78.0px,#ffffb2 81.0px,#ffffa1 84.0px,#ffff8a 87.0px,#ffff6e 90.0px,#ffff52 93.0px,#ffff36 96.0px,#ffff1c 99.0px,#ffff02 102.0px,#fff300 105.0px,#ffe800 108.0px,#ffde00 111.0px,#ffd700 114.0px,#ffd200 117.0px,#ffcf00 120.0px,#ffce00 123.0px,#ffce00 126.0px,#ffcd00 129.0px,#ffcd00 132.0px,#ffcb00 135.0px,#ffc500 138.0px,#ffb800 141.0px,#ffa500 144.0px,#ff9000 147.0px,#ff7200 150.0px,#ff5200 153.0px,#ff3200 156.0px,#ff1e00 159.0px,#ff0e00 162.0px,#ff0200 165.0px,#fb0000 168.0px,#f70000 171.0px,#f10000 174.0px,#e70000 177.0px,#d70000 180.0px,#ab0000 183.0px,#780000 186.0px,#410000 189.0px,#190000 192.0px,#000000 195.0px)"></div><div style="top:52px;background:linear-gradient(90deg,#ffffff 0.0px,#ffffff 3.0px,#ffffff 6.0px,#ffffff 9.0px,#ffffff 12.0px,#ffffff 15.0px,#ffffff 18.0px,#ffffff 21.0px,#ffffff 24.0px,#ffffff 27.0px,#ffffff 30.0px,#ffffff 33.0px,#ffffff 36.0px,#ffffff 39.0px,#fffffe 42.0px,#fffffe 45.0px,#fffffe 48.0px,#fffffe 51.0px,#fffffe 54.0px,#fffffd 57.0px,#fffffb 60.0px,#fffff6 63.0px,#ffffef 66.0px,#ffffe6 69.0px,#ffffda 72.0px,#ffffcc 75.0px,#ffffbc 78.0px,#ffffab 81.0px,#ffff99 84.0px,#ffff80 87.0px,#ffff64 90.0px,#ffff48 93.0px,#ffff2d 96.0px,#ffff13 99.0px,#fffc00 102.0px,#fff000 105.0px,#ffe500 108.0px,#ffdc00 111.0px,#ffd500 114.0px,#ffd100 117.0px,#ffcf00 120.0px,#ffce00 123.0px,#ffce00 126.0px,#ffcd00 129.0px,#ffcd00 132.0px,#ffcc00 135.0px,#ffc600 138.0px,#ffb900 141.0px,#ffa700 144.0px,#ff9200 147.0px,#ff7600 150.0px,#ff5600 153.0px,#ff3600 156.0px,#ff2000 159.0px,#ff1000 162.0px,#ff0300 165.0px,#fb0000 168.0px,#f70000 171.0px,#f10000 174.0px,#e70000 177.0px,#d70000 180.0px,#ac0000 183.0px,#790000 186.0px,#430000 189.0px,#1a0000 192.0px,#010000 195.0px)"></div><div style="top:54px;background:linear-gradient(90deg,#ffffff 0.0px,#ffffff 3.0px,#ffffff 6.0px,#ffffff 9.0px,#ffffff 12.0px,#ffffff 15.0px,#ffffff 18.0px,#ffffff 21.0px,#ffffff 24.0px,#ffffff 27.0px,#ffffff 30.0px,#ffffff 33.0px,#ffffff 36.0px,#fffffe 39.0px,#fffffe 42.0px,#fffffe 45.0px,#fffffe 48.0px,#fffffe 51.0px,#fffffe 54.0px,#fffffc 57.0px,#fffff9 60.0px,#fffff3 63.0px,#ffffeb 66.0px,#ffffe1 69.0px,#ffffd4 72.0px,#ffffc5 75.0px,#ffffb5 78.0px,#ffffa4 81.0px,#ffff91 84.0px,#ffff75 87.0px,#ffff5a 90.0px,#ffff3e 93.0px,#ffff24 96.0px,#ffff0b 99.0px,#fff800 102.0px,#ffec00 105.0px,#ffe200 108.0px,#ffda00 111.0px,#ffd400 114.0px,#ffd000 117.0px,#ffce00 120.0px,#ffce00 123.0px,#ffce00 126.0px,#ffcd00 129.0px,#ffcd00 132.0px,#ffcc00 135.0px,#ffc600 138.0px,#ffba00 141.0px,#ffa900 144.0px,#ff9600 147.0px,#ff7c00 150.0px,#ff5c00 153.0px,#ff3b00 156.0px,#ff2300 159.0px,#ff1200 162.0px,#ff0500 165.0px,#fc0000 168.0px,#f70000 171.0px,#f10000 174.0px,#e70000 177.0px,#d80000 180.0px,#ad0000 183.0px,#7b0000 186.0px,#440000 189.0px,#1a0000 192.0px,#010000 195.0px)"></div><div style="top:56px;background:linear-gradient(90deg,#ffffff 0.0px,#ffffff 3.0px,#ffffff 6.0px,#ffffff 9.0px,#ffffff 12.0px,#ffffff 15.0px,#ffffff 18.0px,#ffffff 21.0px,#ffffff 24.0px,#ffffff 27.0px,#ffffff 30.0px,#ffffff 33.0px,#ffffff 36.0px,#fffffe 39.0px,#fffffe 42.0px,#fffffe 45.0px,#fffffe 48.0px,#fffffe 51.0px,#fffffd 54.0px,#fffffb 57.0px,#fffff7 60.0px,#fffff0 63.0px,#ffffe7 66.0px,#ffffdb 69.0px,#ffffce 72.0px,#ffffbf 75.0px,#ffffaf 78.0px,#ffff9d 81.0px,#ffff87 84.0px,#ffff6b 87.0px,#ffff50 90.0px,#ffff35 93.0px,#ffff1b 96.0px,#ffff03 99.0px,#fff400 102.0px,#ffe900 105.0px,#ffdf00 108.0px,#ffd800 111.0px,#ffd300 114.0px,#ffd000 117.0px,#ffce00 120.0px,#ffce00 123.0px,#ffce00 126.0px,#ffcd00 129.0px,#ffcd00 132.0px,#ffcc00 135.0px,#ffc700 138.0px,#ffbc00 141.0px,#ffac00 144.0px,#ff9900 147.0px,#ff8200 150.0px,#ff6300 153.0px,#ff4100 156.0px,#ff2600 159.0px,#ff1400 162.0px,#ff0600 165.0px,#fd0000 168.0px,#f70000 171.0px,#f10000 174.0px,#e80000 177.0px,#d80000 180.0px,#ad0000 183.0px,#7c0000 186.0px,#440000 189.0px,#1b0000 192.0px,#010000 195.0px)"></div><div style="top:58px;background:linear-gradient(90deg,#ffffff 0.0px,#ffffff 3.0px,#ffffff 6.0px,#ffffff 9.0px,#ffffff 12.0px,#ffffff 15.0px,#ffffff 18.0px,#ffffff 21.0px,#ffffff 24.0px,#ffffff 27.0px,#ffffff 30.0px,#ffffff 33.0px,#fffffe 36.0px,#fffffe 39.0px,#fffffe 42.0px,#fffffe 45.0px,#fffffe 48.0px,#fffffe 51.0px,#fffffc 54.0px,#fffff9 57.0px,#fffff4 60.0px,#ffffec 63.0px,#ffffe2 66.0px,#ffffd6 69.0px,#ffffc8 72.0px,#ffffb8 75.0px,#ffffa8 78.0px,#ffff97 81.0px,#ffff7c 84.0px,#ffff61 87.0px,#ffff46 90.0px,#ffff2c 93.0px,#ffff13 96.0px,#fffc00 99.0px,#fff000 102.0px,#ffe600 105.0px,#ffdd00 108.0px,#ffd600 111.0px,#ffd200 114.0px,#ffcf00 117.0px,#ffce00 120.0px,#ffce00 123.0px,#ffce00 126.0px,#ffcd00 129.0px,#ffcd00 132.0px,#ffcc00 135.0px,#ffc700 138.0px,#ffbd00 141.0px,#ffae00 144.0px,#ff9d00 147.0px,#ff8900 150.0px,#ff6a00 153.0px,#ff4800 156.0px,#ff2a00 159.0px,#ff1700 162.0px,#ff0800 165.0px,#fd0000 168.0px,#f80000 171.0px,#f10000 174.0px,#e80000 177.0px,#d80000 180.0px,#ae0000 183.0px,#7c0000 186.0px,#450000 189.0px,#1b0000 192.0px,#010000 195.0px)"></div><div style="top:60px;background:linear-gradient(90deg,#ffffff 0.0px,#ffffff 3.0px,#ffffff 6.0px,#ffffff 9.0px,#ffffff 12.0px,#ffffff 15.0px,#ffffff 18.0px,#ffffff 21.0px,#ffffff 24.0px,#ffffff 27.0px,#ffffff 30.0px,#ffffff 33.0px,#fffffe 36.0px,#fffffe 39.0px,#fffffe 42.0px,#fffffe 45.0px,#fffffe 48.0px,#fffffd 51.0px,#fffffb 54.0px,#fffff7 57.0px,#fffff1 60.0px,#ffffe8 63.0px,#ffffdd 66.0px,#ffffd0 69.0px,#ffffc2 72.0px,#ffffb2 75.0px,#ffffa1 78.0px,#ffff8d 81.0px,#ffff72 84.0px,#ffff58 87.0px,#ffff3d 90.0px,#ffff24 93.0px,#ffff0b 96.0px,#fff900 99.0px,#ffed00 102.0px,#ffe300 105.0px,#ffdb00 108.0px,#ffd500 111.0px,#ffd100 114.0px,#ffcf00 117.0px,#ffce00 120.0px,#ffce00 123.0px,#ffce00 126.0px,#ffcd00 129.0px,#ffcd00 132.0px,#ffcc00 135.0px,#ffc800 138.0px,#ffbe00 141.0px,#ffb100 144.0px,#ffa100 147.0px,#ff8f00 150.0px,#ff7100 153.0px,#ff4e00 156.0px,#ff2d00 159.0px,#ff1900 162.0px,#ff0a00 165.0px,#fe0000 168.0px,#f80000 171.0px,#f20000 174.0px,#e80000 177.0px,#d80000 180.0px,#af0000 183.0px,#7d0000 186.0px,#460000 189.0px,#1c0000 192.0px,#010000 195.0px)"></div><div style="top:62px;background:linear-gradient(90deg,#ffffff 0.0px,#ffffff 3.0px,#ffffff 6.0px,#ffffff 9.0px,#ffffff 12.0px,#ffffff 15.0px,#ffffff 18.0px,#ffffff 21.0px,#ffffff 24.0px,#ffffff 27.0px,#ffffff 30.0px,#fffffe 33.0px,#fffffe 36.0px,#fffffe 39.0px,#fffffe 42.0px,#fffffe 45.0px,#fffffe 48.0px,#fffffd 51.0px,#fffffa 54.0px,#fffff5 57.0px,#ffffed 60.0px,#ffffe3 63.0px,#ffffd8 66.0px,#ffffca 69.0px,#ffffbb 72.0px,#ffffab 75.0px,#ffff9b 78.0px,#ffff83 81.0px,#ffff69 84.0px,#ffff4e 87.0px,#ffff34 90.0px,#ffff1b 93.0px,#ffff04 96.0px,#fff500 99.0px,#ffea00 102.0px,#ffe100 105.0px,#ffd900 108.0px,#ffd300 111.0px,#ffd000 114.0px,#ffce00 117.0px,#ffce00 120.0px,#ffce00 123.0px,#ffce00 126.0px,#ffcd00 129.0px,#ffcd00 132.0px,#ffcc00 135.0px,#ffc800 138.0px,#ffc000 141.0px,#ffb400 144.0px,#ffa600 147.0px,#ff9400 150.0px,#ff7800 153.0px,#ff5500 156.0px,#ff3100 159.0px,#ff1c00 162.0px,#ff0b00 165.0px,#ff0000 168.0px,#f80000 171.0px,#f20000 174.0px,#e80000 177.0px,#d80000 180.0px,#af0000 183.0px,#7e0000 186.0px,#470000 189.0px,#1c0000 192.0px,#020000 195.0px)"></div><div style="top:64px;background:linear-gradient(90deg,#ffffff 0.0px,#ffffff 3.0px,#ffffff 6.0px,#ffffff 9.0px,#ffffff 12.0px,#ffffff 15.0px,#ffffff 18.0px,#ffffff 21.0px,#ffffff 24.0px,#ffffff 27.0px,#ffffff 30.0px,#fffffe 33.0px,#fffffe 36.0px,#fffffe 39.0px,#fffffe 42.0px,#fffffe 45.0px,#fffffd 48.0px,#fffffb 51.0px,#fffff8 54.0px,#fffff1 57.0px,#ffffe9 60.0px,#ffffde 63.0px,#ffffd2 66.0px,#ffffc4 69.0px,#ffffb5 72.0px,#ffffa5 75.0px,#ffff93 78.0px,#ffff79 81.0px,#ffff5f 84.0px,#ffff45 87.0px,#ffff2c 90.0px,#ffff13 93.0px,#fffd00 96.0px,#fff100 99.0px,#ffe700 102.0px,#ffde00 105.0px,#ffd700 108.0px,#ffd200 111.0px,#ffcf00 114.0px,#ffce00 117.0px,#ffce00 120.0px,#ffce00 123.0px,#ffce00 126.0px,#ffcd00 129.0px,#ffcd00 132.0px,#ffcc00 135.0px,#ffc900 138.0px,#ffc100 141.0px,#ffb700 144.0px,#ffaa00 147.0px,#ff9900 150.0px,#ff8000 153.0px,#ff5c00 156.0px,#ff3600 159.0px,#ff1e00 162.0px,#ff0d00 165.0px,#ff0100 168.0px,#f90000 171.0px,#f20000 174.0px,#e80000 177.0px,#d90000 180.0px,#b00000 183.0px,#7f0000 186.0px,#480000 189.0px,#1c0000 192.0px,#020000 195.0px)"></div><div style="top:66px;background:linear-gradient(90deg,#ffffff 0.0px,#ffffff 3.0px,#ffffff 6.0px,#ffffff 9.0px,#ffffff 12.0px,#ffffff 15.0px,#ffffff 18.0px,#ffffff 21.0px,#ffffff 24.0px,#ffffff 27.0px,#fffffe 30.0px,#fffffe 33.0px,#fffffe 36.0px,#fffffe 39.0px,#fffffe 42.0px,#fffffe 45.0px,#fffffd 48.0px,#fffffa 51.0px,#fffff5 54.0px,#ffffee 57.0px,#ffffe5 60.0px,#ffffd9 63.0px,#ffffcc 66.0px,#ffffbe 69.0px,#ffffaf 72.0px,#ffff9e 75.0px,#ffff89 78.0px,#ffff6f 81.0px,#ffff56 84.0px,#ffff3c 87.0px,#ffff23 90.0px,#ffff0c 93.0px,#fff900 96.0px,#ffee00 99.0px,#ffe400 102.0px,#ffdc00 105.0px,#ffd600 108.0px,#ffd100 111.0px,#ffcf00 114.0px,#ffce00 117.0px,#ffce00 120.0px,#ffce00 123.0px,#ffce00 126.0px,#ffcd00 129.0px,#ffcd00 132.0px,#ffcc00 135.0px,#ffc900 138.0px,#ffc300 141.0px,#ffba00 144.0px,#ffae00 147.0px,#ff9e00 150.0px,#ff8700 153.0px,#ff6200 156.0px,#ff3b00 159.0px,#ff2100 162.0px,#ff0f00 165.0px,#ff0200 168.0px,#f90000 171.0px,#f20000 174.0px,#e80000 177.0px,#d90000 180.0px,#b00000 183.0px,#800000 186.0px,#480000 189.0px,#1d0000 192.0px,#020000 195.0px)"></div><div style="top:68px;background:linear-gradient(90deg,#ffffff 0.0px,#ffffff 3.0px,#ffffff 6.0px,#ffffff 9.0px,#ffffff 12.0px,#ffffff 15.0px,#ffffff 18.0px,#ffffff 21.0px,#ffffff 24.0px,#ffffff 27.0px,#fffffe 30.0px,#fffffe 33.0px,#fffffe 36.0px,#fffffe 39.0px,#fffffe 42.0px,#fffffd 45.0px,#fffffc 48.0px,#fffff8 51.0px,#fffff2 54.0px,#ffffea 57.0px,#ffffe0 60.0px,#ffffd4 63.0px,#ffffc7 66.0px,#ffffb8 69.0px,#ffffa8 72.0px,#ffff98 75.0px,#ffff80 78.0px,#ffff66 81.0px,#ffff4c 84.0px,#ffff33 87.0px,#ffff1b 90.0px,#ffff05 93.0px,#fff600 96.0px,#ffeb00 99.0px,#ffe200 102.0px,#ffda00 105.0px,#ffd400 108.0px,#ffd100 111.0px,#ffcf00 114.0px,#ffce00 117.0px,#ffce00 120.0px,#ffce00 123.0px,#ffce00 126.0px,#ffcd00 129.0px,#ffcd00 132.0px,#ffcd00 135.0px,#ffca00 138.0px,#ffc400 141.0px,#ffbc00 144.0px,#ffb200 147.0px,#ffa300 150.0px,#ff8e00 153.0px,#ff6900 156.0px,#ff4100 159.0px,#ff2400 162.0px,#ff1000 165.0px,#ff0300 168.0px,#f90000 171.0px,#f20000 174.0px,#e80000 177.0px,#d90000 180.0px,#b10000 183.0px,#810000 186.0px,#490000 189.0px,#1d0000 192.0px,#020000 195.0px)"></div><div style="top:70px;background:linear-gradient(90deg,#ffffff 0.0px,#ffffff 3.0px,#ffffff 6.0px,#ffffff 9.0px,#ffffff 12.0px,#ffffff 15.0px,#ffffff 18.0px,#ffffff 21.0px,#ffffff 24.0px,#ffffff 27.0px,#fffffe 30.0px,#fffffe 33.0px,#fffffe 36.0px,#fffffe 39.0px,#fffffe 42.0px,#fffffd 45.0px,#fffffa 48.0px,#fffff6 51.0px,#ffffef 54.0px,#ffffe6 57.0px,#ffffdb 60.0px,#ffffce 63.0px,#ffffc1 66.0px,#ffffb2 69.0px,#ffffa2 72.0px,#ffff8f 75.0px,#ffff76 78.0px,#ffff5d 81.0px,#ffff44 84.0px,#ffff2b 87.0px,#ffff14 90.0px,#fffd00 93.0px,#fff200 96.0px,#ffe800 99.0px,#ffdf00 102.0px,#ffd800 105.0px,#ffd300 108.0px,#ffd000 111.0px,#ffce00 114.0px,#ffce00 117.0px,#ffce00 120.0px,#ffce00 123.0px,#ffce00 126.0px,#ffcd00 129.0px,#ffcd00 132.0px,#ffcd00 135.0px,#ffcb00 138.0px,#ffc600 141.0px,#ffbf00 144.0px,#ffb600 147.0px,#ffa800 150.0px,#ff9300 153.0px,#ff7000 156.0px,#ff4600 159.0px,#ff2600 162.0px,#ff1200 165.0px,#ff0400 168.0px,#fa0000 171.0px,#f20000 174.0px,#e80000 177.0px,#d90000 180.0px,#b20000 183.0px,#820000 186.0px,#4a0000 189.0px,#1e0000 192.0px,#020000 195.0px)"></div><div style="top:72px;background:linear-gradient(90deg,#ffffff 0.0px,#ffffff 3.0px,#ffffff 6.0px,#ffffff 9.0px,#ffffff 12.0px,#ffffff 15.0px,#ffffff 18.0px,#ffffff 21.0px,#ffffff 24.0px,#fffffe 27.0px,#fffffe 30.0px,#fffffe 33.0px,#fffffe 36.0px,#fffffe 39.0px,#fffffe 42.0px,#fffffc 45.0px,#fffff8 48.0px,#fffff3 51.0px,#ffffeb 54.0px,#ffffe1 57.0px,#ffffd6 60.0px,#ffffc9 63.0px,#ffffbb 66.0px,#ffffab 69.0px,#ffff9b 72.0px,#ffff86 75.0px,#ffff6d 78.0px,#ffff54 81.0px,#ffff3b 84.0px,#ffff23 87.0px,#ffff0c 90.0px,#fffa00 93.0px,#ffef00 96.0px,#ffe500 99.0px,#ffdd00 102.0px,#ffd700 105.0px,#ffd200 108.0px,#ffcf00 111.0px,#ffce00 114.0px,#ffce00 117.0px,#ffce00 120.0px,#ffce00 123.0px,#ffce00 126.0px,#ffcd00 129.0px,#ffcd00 132.0px,#ffcd00 135.0px,#ffcb00 138.0px,#ffc700 141.0px,#ffc200 144.0px,#ffba00 147.0px,#ffad00 150.0px,#ff9800 153.0px,#ff7600 156.0px,#ff4c00 159.0px,#ff2900 162.0px,#ff1400 165.0px,#ff0500 168.0px,#fa0000 171.0px,#f20000 174.0px,#e90000 177.0px,#da0000 180.0px,#b20000 183.0px,#820000 186.0px,#4b0000 189.0px,#1e0000 192.0px,#020000 195.0px)"></div><div style="top:74px;background:linear-gradient(90deg,#ffffff 0.0px,#ffffff 3.0px,#ffffff 6.0px,#ffffff 9.0px,#ffffff 12.0px,#ffffff 15.0px,#ffffff 18.0px,#ffffff 21.0px,#ffffff 24.0px,#fffffe 27.0px,#fffffe 30.0px,#fffffe 33.0px,#fffffe 36.0px,#fffffe 39.0px,#fffffd 42.0px,#fffffa 45.0px,#fffff6 48.0px,#ffffef 51.0px,#ffffe7 54.0px,#ffffdc 57.0px,#ffffd0 60.0px,#ffffc3 63.0px,#ffffb4 66.0px,#ffffa5 69.0px,#ffff95 72.0px,#ffff7c 75.0px,#ffff63 78.0px,#ffff4a 81.0px,#ffff32 84.0px,#ffff1b 87.0px,#ffff05 90.0px,#fff600 93.0px,#ffeb00 96.0px,#ffe200 99.0px,#ffdb00 102.0px,#ffd500 105.0px,#ffd100 108.0px,#ffcf00 111.0px,#ffce00 114.0px,#ffce00 117.0px,#ffce00 120.0px,#ffce00 123.0px,#ffcd00 126.0px,#ffcd00 129.0px,#ffcd00 132.0px,#ffcd00 135.0px,#ffcc00 138.0px,#ffc900 141.0px,#ffc500 144.0px,#ffbe00 147.0px,#ffb200 150.0px,#ff9e00 153.0px,#ff7d00 156.0px,#ff5100 159.0px,#ff2b00 162.0px,#ff1600 165.0px,#ff0500 168.0px,#fa0000 171.0px,#f30000 174.0px,#e90000 177.0px,#da0000 180.0px,#b30000 183.0px,#830000 186.0px,#4c0000 189.0px,#1f0000 192.0px,#030000 195.0px)"></div><div style="top:76px;background:linear-gradient(90deg,#ffffff 0.0px,#ffffff 3.0px,#ffffff 6.0px,#ffffff 9.0px,#ffffff 12.0px,#ffffff 15.0px,#ffffff 18.0px,#ffffff 21.0px,#ffffff 24.0px,#fffffe 27.0px,#fffffe 30.0px,#fffffe 33.0px,#fffffe 36.0px,#fffffe 39.0px,#fffffc 42.0px,#fffff9 45.0px,#fffff3 48.0px,#ffffec 51.0px,#ffffe3 54.0px,#ffffd7 57.0px,#ffffcb 60.0px,#ffffbd 63.0px,#ffffae 66.0px,#ffff9f 69.0px,#ffff8b 72.0px,#ffff72 75.0px,#ffff59 78.0px,#ffff41 81.0px,#ffff29 84.0px,#ffff12 87.0px,#fffd00 90.0px,#fff200 93.0px,#ffe800 96.0px,#ffe000 99.0px,#ffd900 102.0px,#ffd400 105.0px,#ffd000 108.0px,#ffce00 111.0px,#ffce00 114.0px,#ffce00 117.0px,#ffce00 120.0px,#ffce00 123.0px,#ffcd00 126.0px,#ffcd00 129.0px,#ffcd00 132.0px,#ffcd00 135.0px,#ffcc00 138.0px,#ffca00 141.0px,#ffc700 144.0px,#ffc200 147.0px,#ffb700 150.0px,#ffa300 153.0px,#ff8300 156.0px,#ff5600 159.0px,#ff2e00 162.0px,#ff1700 165.0px,#ff0600 168.0px,#fa0000 171.0px,#f30000 174.0px,#e90000 177.0px,#da0000 180.0px,#b40000 183.0px,#840000 186.0px,#4d0000 189.0px,#1f0000 192.0px,#030000 195.0px)"></div><div style="top:78px;background:linear-gradient(90deg,#ffffff 0.0px,#ffffff 3.0px,#ffffff 6.0px,#ffffff 9.0px,#ffffff 12.0px,#ffffff 15.0px,#ffffff 18.0px,#ffffff 21.0px,#fffffe 24.0px,#fffffe 27.0px,#fffffe 30.0px,#fffffe 33.0px,#fffffe 36.0px,#fffffd 39.0px,#fffffb 42.0px,#fffff7 45.0px,#fffff0 48.0px,#ffffe8 51.0px,#ffffde 54.0px,#ffffd2 57.0px,#ffffc5 60.0px,#ffffb7 63.0px,#ffffa8 66.0px,#ffff98 69.0px,#ffff80 72.0px,#ffff68 75.0px,#ffff4f 78.0px,#ffff37 81.0px,#ffff1f 84.0px,#ffff09 87.0px,#fff800 90.0px,#ffee00 93.0px,#ffe500 96.0px,#ffdd00 99.0px,#ffd700 102.0px,#ffd200 105.0px,#ffcf00 108.0px,#ffce00 111.0px,#ffce00 114.0px,#ffce00 117.0px,#ffce00 120.0px,#ffce00 123.0px,#ffcd00 126.0px,#ffcd00 129.0px,#ffcd00 132.0px,#ffcd00 135.0px,#ffcd00 138.0px,#ffcc00 141.0px,#ffca00 144.0px,#ffc500 147.0px,#ffbb00 150.0px,#ffa700 153.0px,#ff8900 156.0px,#ff5b00 159.0px,#ff3000 162.0px,#ff1900 165.0px,#ff0700 168.0px,#fb0000 171.0px,#f30000 174.0px,#e90000 177.0px,#da0000 180.0px,#b50000 183.0px,#850000 186.0px,#4e0000 189.0px,#200000 192.0px,#030000 195.0px)"></div><div style="top:80px;background:linear-gradient(90deg,#ffffff 0.0px,#ffffff 3.0px,#ffffff 6.0px,#ffffff 9.0px,#ffffff 12.0px,#ffffff 15.0px,#ffffff 18.0px,#ffffff 21.0px,#fffffe 24.0px,#fffffe 27.0px,#fffffe 30.0px,#fffffe 33.0px,#fffffe 36.0px,#fffffd 39.0px,#fffffa 42.0px,#fffff4 45.0px,#ffffed 48.0px,#ffffe4 51.0px,#ffffd9 54.0px,#ffffcd 57.0px,#ffffbf 60.0px,#ffffb0 63.0px,#ffffa1 66.0px,#ffff8e 69.0px,#ffff75 72.0px,#ffff5c 75.0px,#ffff44 78.0px,#ffff2c 81.0px,#ffff15 84.0px,#fffe00 87.0px,#fff300 90.0px,#ffe900 93.0px,#ffe100 96.0px,#ffda00 99.0px,#ffd400 102.0px,#ffd100 105.0px,#ffcf00 108.0px,#ffce00 111.0px,#ffce00 114.0px,#ffce00 117.0px,#ffce00 120.0px,#ffce00 123.0px,#ffcd00 126.0px,#ffcd00 129.0px,#ffcd00 132.0px,#ffcd00 135.0px,#ffcd00 138.0px,#ffcc00 141.0px,#ffcb00 144.0px,#ffc800 147.0px,#ffbf00 150.0px,#ffab00 153.0px,#ff8d00 156.0px,#ff5f00 159.0px,#ff3300 162.0px,#ff1b00 165.0px,#ff0800 168.0px,#fb0000 171.0px,#f30000 174.0px,#ea0000 177.0px,#db0000 180.0px,#b70000 183.0px,#870000 186.0px,#500000 189.0px,#210000 192.0px,#040000 195.0px)"></div><div style="top:82px;background:linear-gradient(90deg,#ffffff 0.0px,#ffffff 3.0px,#ffffff 6.0px,#ffffff 9.0px,#ffffff 12.0px,#ffffff 15.0px,#ffffff 18.0px,#ffffff 21.0px,#fffffe 24.0px,#fffffe 27.0px,#fffffe 30.0px,#fffffe 33.0px,#fffffe 36.0px,#fffffc 39.0px,#fffff8 42.0px,#fffff2 45.0px,#ffffea 48.0px,#ffffe0 51.0px,#ffffd4 54.0px,#ffffc7 57.0px,#ffffb8 60.0px,#ffffa9 63.0px,#ffff99 66.0px,#ffff82 69.0px,#ffff69 72.0px,#ffff50 75.0px,#ffff38 78.0px,#ffff20 81.0px,#ffff0a 84.0px,#fff800 87.0px,#ffee00 90.0px,#ffe400 93.0px,#ffdd00 96.0px,#ffd700 99.0px,#ffd200 102.0px,#ffd000 105.0px,#ffce00 108.0px,#ffce00 111.0px,#ffce00 114.0px,#ffce00 117.0px,#ffce00 120.0px,#ffcd00 123.0px,#ffcd00 126.0px,#ffcd00 129.0px,#ffcd00 132.0px,#ffcd00 135.0px,#ffcd00 138.0px,#ffcd00 141.0px,#ffcc00 144.0px,#ffca00 147.0px,#ffc100 150.0px,#ffae00 153.0px,#ff9000 156.0px,#ff6300 159.0px,#ff3600 162.0px,#ff1c00 165.0px,#ff0a00 168.0px,#fc0000 171.0px,#f40000 174.0px,#ea0000 177.0px,#dc0000 180.0px,#b90000 183.0px,#8a0000 186.0px,#520000 189.0px,#230000 192.0px,#050000 195.0px)"></div><div style="top:84px;background:linear-gradient(90deg,#ffffff 0.0px,#ffffff 3.0px,#ffffff 6.0px,#ffffff 9.0px,#ffffff 12.0px,#ffffff 15.0px,#ffffff 18.0px,#fffffe 21.0px,#fffffe 24.0px,#fffffe 27.0px,#fffffe 30.0px,#fffffe 33.0px,#fffffd 36.0px,#fffffa 39.0px,#fffff6 42.0px,#ffffef 45.0px,#ffffe6 48.0px,#ffffdb 51.0px,#ffffce 54.0px,#ffffc1 57.0px,#ffffb2 60.0px,#ffffa2 63.0px,#ffff8f 66.0px,#ffff76 69.0px,#ffff5c 72.0px,#ffff43 75.0px,#ffff2b 78.0px,#ffff14 81.0px,#fffe00 84.0px,#fff200 87.0px,#ffe800 90.0px,#ffe000 93.0px,#ffd900 96.0px,#ffd400 99.0px,#ffd100 102.0px,#ffcf00 105.0px,#ffce00 108.0px,#ffce00 111.0px,#ffce00 114.0px,#ffce00 117.0px,#ffce00 120.0px,#ffcd00 123.0px,#ffcd00 126.0px,#ffcd00 129.0px,#ffcd00 132.0px,#ffcd00 135.0px,#ffcd00 138.0px,#ffcd00 141.0px,#ffcd00 144.0px,#ffcb00 147.0px,#ffc200 150.0px,#ffb000 153.0px,#ff9300 156.0px,#ff6600 159.0px,#ff3900 162.0px,#ff1e00 165.0px,#ff0b00 168.0px,#fd0000 171.0px,#f40000 174.0px,#eb0000 177.0px,#dd0000 180.0px,#bb0000 183.0px,#8c0000 186.0px,#550000 189.0px,#250000 192.0px,#070000 195.0px)"></div><div style="top:86px;background:linear-gradient(90deg,#ffffff 0.0px,#ffffff 3.0px,#ffffff 6.0px,#ffffff 9.0px,#ffffff 12.0px,#ffffff 15.0px,#ffffff 18.0px,#fffffe 21.0px,#fffffe 24.0px,#fffffe 27.0px,#fffffe 30.0px,#fffffe 33.0px,#fffffc 36.0px,#fffff9 39.0px,#fffff3 42.0px,#ffffec 45.0px,#ffffe2 48.0px,#ffffd6 51.0px,#ffffc8 54.0px,#ffffba 57.0px,#ffffaa 60.0px,#ffff9a 63.0px,#ffff82 66.0px,#ffff69 69.0px,#ffff4f 72.0px,#ffff36 75.0px,#ffff1e 78.0px,#ffff07 81.0px,#fff700 84.0px,#ffec00 87.0px,#ffe300 90.0px,#ffdb00 93.0px,#ffd600 96.0px,#ffd200 99.0px,#ffcf00 102.0px,#ffce00 105.0px,#ffce00 108.0px,#ffce00 111.0px,#ffce00 114.0px,#ffce00 117.0px,#ffce00 120.0px,#ffcd00 123.0px,#ffcd00 126.0px,#ffcd00 129.0px,#ffcd00 132.0px,#ffcd00 135.0px,#ffcd00 138.0px,#ffcd00 141.0px,#ffcd00 144.0px,#ffcb00 147.0px,#ffc300 150.0px,#ffb100 153.0px,#ff9500 156.0px,#ff6900 159.0px,#ff3c00 162.0px,#ff1f00 165.0px,#ff0c00 168.0px,#fd0000 171.0px,#f50000 174.0px,#ec0000 177.0px,#de0000 180.0px,#be0000 183.0px,#900000 186.0px,#590000 189.0px,#270000 192.0px,#080000 195.0px)"></div><div style="top:88px;background:linear-gradient(90deg,#ffffff 0.0px,#ffffff 3.0px,#ffffff 6.0px,#ffffff 9.0px,#ffffff 12.0px,#ffffff 15.0px,#ffffff 18.0px,#fffffe 21.0px,#fffffe 24.0px,#fffffe 27.0px,#fffffe 30.0px,#fffffd 33.0px,#fffffb 36.0px,#fffff7 39.0px,#fffff1 42.0px,#ffffe8 45.0px,#ffffdd 48.0px,#ffffd0 51.0px,#ffffc2 54.0px,#ffffb2 57.0px,#ffffa2 60.0px,#ffff8e 63.0px,#ffff74 66.0px,#ffff5a 69.0px,#ffff40 72.0px,#ffff27 75.0px,#ffff10 78.0px,#fffb00 81.0px,#fff000 84.0px,#ffe600 87.0px,#ffde00 90.0px,#ffd700 93.0px,#ffd300 96.0px,#ffd000 99.0px,#ffce00 102.0px,#ffce00 105.0px,#ffce00 108.0px,#ffce00 111.0px,#ffce00 114.0px,#ffce00 117.0px,#ffce00 120.0px,#ffcd00 123.0px,#ffcd00 126.0px,#ffcd00 129.0px,#ffcd00 132.0px,#ffcd00 135.0px,#ffcd00 138.0px,#ffcd00 141.0px,#ffcd00 144.0px,#ffcb00 147.0px,#ffc400 150.0px,#ffb200 153.0px,#ff9600 156.0px,#ff6c00 159.0px,#ff3e00 162.0px,#ff2100 165.0px,#ff0d00 168.0px,#fe0000 171.0px,#f60000 174.0px,#ec0000 177.0px,#df0000 180.0px,#c20000 183.0px,#930000 186.0px,#5c0000 189.0px,#290000 192.0px,#0a0000 195.0px)"></div><div style="top:90px;background:linear-gradient(90deg,#ffffff 0.0px,#ffffff 3.0px,#ffffff 6.0px,#ffffff 9.0px,#ffffff 12.0px,#ffffff 15.0px,#ffffff 18.0px,#fffffe 21.0px,#fffffe 24.0px,#fffffe 27.0px,#fffffe 30.0px,#fffffd 33.0px,#fffffa 36.0px,#fffff5 39.0px,#ffffed 42.0px,#ffffe3 45.0px,#ffffd7 48.0px,#ffffc9 51.0px,#ffffba 54.0px,#ffffaa 57.0px,#ffff99 60.0px,#ffff7f 63.0px,#ffff65 66.0px,#ffff4a 69.0px,#ffff30 72.0px,#ffff18 75.0px,#ffff00 78.0px,#fff300 81.0px,#ffe900 84.0px,#ffe000 87.0px,#ffd900 90.0px,#ffd400 93.0px,#ffd100 96.0px,#ffcf00 99.0px,#ffce00 102.0px,#ffce00 105.0px,#ffce00 108.0px,#ffce00 111.0px,#ffce00 114.0px,#ffce00 117.0px,#ffcd00 120.0px,#ffcd00 123.0px,#ffcd00 126.0px,#ffcd00 129.0px,#ffcd00 132.0px,#ffcd00 135.0px,#ffcd00 138.0px,#ffcd00 141.0px,#ffcd00 144.0px,#ffcb00 147.0px,#ffc400 150.0px,#ffb300 153.0px,#ff9800 156.0px,#ff6e00 159.0px,#ff4100 162.0px,#ff2200 165.0px,#ff0e00 168.0px,#ff0000 171.0px,#f60000 174.0px,#ed0000 177.0px,#e00000 180.0px,#c50000 183.0px,#960000 186.0px,#600000 189.0px,#2c0000 192.0px,#0c0000 195.0px)"></div><div style="top:92px;background:linear-gradient(90deg,#ffffff 0.0px,#ffffff 3.0px,#ffffff 6.0px,#ffffff 9.0px,#ffffff 12.0px,#ffffff 15.0px,#fffffe 18.0px,#fffffe 21.0px,#fffffe 24.0px,#fffffe 27.0px,#fffffe 30.0px,#fffffc 33.0px,#fffff8 36.0px,#fffff2 39.0px,#ffffe9 42.0px,#ffffde 45.0px,#ffffd1 48.0px,#ffffc2 51.0px,#ffffb1 54.0px,#ffffa0 57.0px,#ffff8a 60.0px,#ffff6f 63.0px,#ffff53 66.0px,#ffff38 69.0px,#ffff1e 72.0px,#ffff06 75.0px,#fff600 78.0px,#ffeb00 81.0px,#ffe200 84.0px,#ffda00 87.0px,#ffd500 90.0px,#ffd100 93.0px,#ffcf00 96.0px,#ffce00 99.0px,#ffce00 102.0px,#ffce00 105.0px,#ffce00 108.0px,#ffce00 111.0px,#ffce00 114.0px,#ffcd00 117.0px,#ffcd00 120.0px,#ffcd00 123.0px,#ffcd00 126.0px,#ffcd00 129.0px,#ffcd00 132.0px,#ffcd00 135.0px,#ffcd00 138.0px,#ffcd00 141.0px,#ffcd00 144.0px,#ffcb00 147.0px,#ffc500 150.0px,#ffb400 153.0px,#ff9a00 156.0px,#ff7100 159.0px,#ff4300 162.0px,#ff2400 165.0px,#ff1000 168.0px,#ff0100 171.0px,#f70000 174.0px,#ee0000 177.0px,#e10000 180.0px,#c80000 183.0px,#9a0000 186.0px,#630000 189.0px,#2e0000 192.0px,#0d0000 195.0px)"></div><div style="top:94px;background:linear-gradient(90deg,#ffffff 0.0px,#ffffff 3.0px,#ffffff 6.0px,#ffffff 9.0px,#ffffff 12.0px,#ffffff 15.0px,#fffffe 18.0px,#fffffe 21.0px,#fffffe 24.0px,#fffffe 27.0px,#fffffd 30.0px,#fffffb 33.0px,#fffff6 36.0px,#ffffef 39.0px,#ffffe4 42.0px,#ffffd8 45.0px,#ffffc9 48.0px,#ffffb9 51.0px,#ffffa7 54.0px,#ffff94 57.0px,#ffff78 60.0px,#ffff5c 63.0px,#ffff40 66.0px,#ffff25 69.0px,#ffff0b 72.0px,#fff800 75.0px,#ffed00 78.0px,#ffe300 81.0px,#ffdb00 84.0px,#ffd600 87.0px,#ffd200 90.0px,#ffd000 93.0px,#ffce00 96.0px,#ffce00 99.0px,#ffce00 102.0px,#ffce00 105.0px,#ffce00 108.0px,#ffce00 111.0px,#ffce00 114.0px,#ffcd00 117.0px,#ffcd00 120.0px,#ffcd00 123.0px,#ffcd00 126.0px,#ffcd00 129.0px,#ffcd00 132.0px,#ffcd00 135.0px,#ffcd00 138.0px,#ffcd00 141.0px,#ffcd00 144.0px,#ffcc00 147.0px,#ffc500 150.0px,#ffb500 153.0px,#ff9b00 156.0px,#ff7400 159.0px,#ff4600 162.0px,#ff2500 165.0px,#ff1100 168.0px,#ff0200 171.0px,#f80000 174.0px,#ef0000 177.0px,#e30000 180.0px,#cb0000 183.0px,#9d0000 186.0px,#670000 189.0px,#310000 192.0px,#0f0000 195.0px)"></div><div style="top:96px;background:linear-gradient(90deg,#ffffff 0.0px,#ffffff 3.0px,#ffffff 6.0px,#ffffff 9.0px,#ffffff 12.0px,#ffffff 15.0px,#fffffe 18.0px,#fffffe 21.0px,#fffffe 24.0px,#fffffe 27.0px,#fffffd 30.0px,#fffffa 33.0px,#fffff4 36.0px,#ffffeb 39.0px,#ffffdf 42.0px,#ffffd1 45.0px,#ffffc0 48.0px,#ffffaf 51.0px,#ffff9c 54.0px,#ffff82 57.0px,#ffff64 60.0px,#ffff47 63.0px,#ffff2b 66.0px,#ffff10 69.0px,#fffa00 72.0px,#ffee00 75.0px,#ffe400 78.0px,#ffdc00 81.0px,#ffd600 84.0px,#ffd200 87.0px,#ffd000 90.0px,#ffce00 93.0px,#ffce00 96.0px,#ffce00 99.0px,#ffce00 102.0px,#ffce00 105.0px,#ffce00 108.0px,#ffce00 111.0px,#ffcd00 114.0px,#ffcd00 117.0px,#ffcd00 120.0px,#ffcd00 123.0px,#ffcd00 126.0px,#ffcd00 129.0px,#ffcd00 132.0px,#ffcd00 135.0px,#ffcd00 138.0px,#ffcd00 141.0px,#ffcd00 144.0px,#ffcc00 147.0px,#ffc500 150.0px,#ffb600 153.0px,#ff9d00 156.0px,#ff7600 159.0px,#ff4800 162.0px,#ff2700 165.0px,#ff1200 168.0px,#ff0300 171.0px,#f80000 174.0px,#f00000 177.0px,#e40000 180.0px,#cf0000 183.0px,#a10000 186.0px,#6b0000 189.0px,#340000 192.0px,#110000 195.0px)"></div><div style="top:98px;background:linear-gradient(90deg,#ffffff 0.0px,#ffffff 3.0px,#ffffff 6.0px,#ffffff 9.0px,#ffffff 12.0px,#ffffff 15.0px,#fffffe 18.0px,#fffffe 21.0px,#fffffe 24.0px,#fffffe 27.0px,#fffffc 30.0px,#fffff8 33.0px,#fffff0 36.0px,#ffffe6 39.0px,#ffffd8 42.0px,#ffffc8 45.0px,#ffffb7 48.0px,#ffffa4 51.0px,#ffff8c 54.0px,#ffff6e 57.0px,#ffff4f 60.0px,#ffff31 63.0px,#ffff15 66.0px,#fffc00 69.0px,#ffef00 72.0px,#ffe500 75.0px,#ffdc00 78.0px,#ffd600 81.0px,#ffd200 84.0px,#ffd000 87.0px,#ffce00 90.0px,#ffce00 93.0px,#ffce00 96.0px,#ffce00 99.0px,#ffce00 102.0px,#ffce00 105.0px,#ffce00 108.0px,#ffcd00 111.0px,#ffcd00 114.0px,#ffcd00 117.0px,#ffcd00 120.0px,#ffcd00 123.0px,#ffcd00 126.0px,#ffcd00 129.0px,#ffcd00 132.0px,#ffcd00 135.0px,#ffcd00 138.0px,#ffcd00 141.0px,#ffcd00 144.0px,#ffcc00 147.0px,#ffc600 150.0px,#ffb700 153.0px,#ff9f00 156.0px,#ff7900 159.0px,#ff4b00 162.0px,#ff2800 165.0px,#ff1300 168.0px,#ff0400 171.0px,#f90000 174.0px,#f00000 177.0px,#e50000 180.0px,#d20000 183.0px,#a40000 186.0px,#6e0000 189.0px,#360000 192.0px,#130000 195.0px)"></div><div style="top:100px;background:linear-gradient(90deg,#ffffff 0.0px,#ffffff 3.0px,#ffffff 6.0px,#ffffff 9.0px,#ffffff 12.0px,#ffffff 15.0px,#fffffe 18.0px,#fffffe 21.0px,#fffffe 24.0px,#fffffd 27.0px,#fffffb 30.0px,#fffff6 33.0px,#ffffed 36.0px,#ffffe0 39.0px,#ffffd1 42.0px,#ffffbf 45.0px,#ffffac 48.0px,#ffff97 51.0px,#ffff78 54.0px,#ffff58 57.0px,#ffff39 60.0px,#ffff1b 63.0px,#ffff00 66.0px,#fff100 69.0px,#ffe600 72.0px,#ffdd00 75.0px,#ffd600 78.0px,#ffd200 81.0px,#ffd000 84.0px,#ffce00 87.0px,#ffce00 90.0px,#ffce00 93.0px,#ffce00 96.0px,#ffce00 99.0px,#ffce00 102.0px,#ffce00 105.0px,#ffce00 108.0px,#ffcd00 111.0px,#ffcd00 114.0px,#ffcd00 117.0px,#ffcd00 120.0px,#ffcd00 123.0px,#ffcd00 126.0px,#ffcd00 129.0px,#ffcd00 132.0px,#ffcd00 135.0px,#ffcd00 138.0px,#ffcd00 141.0px,#ffcd00 144.0px,#ffcc00 147.0px,#ffc600 150.0px,#ffb900 153.0px,#ffa000 156.0px,#ff7c00 159.0px,#ff4d00 162.0px,#ff2900 165.0px,#ff1500 168.0px,#ff0500 171.0px,#fa0000 174.0px,#f10000 177.0px,#e60000 180.0px,#d50000 183.0px,#a70000 186.0px,#720000 189.0px,#390000 192.0px,#140000 195.0px)"></div><div style="top:102px;background:linear-gradient(90deg,#ffffff 0.0px,#ffffff 3.0px,#ffffff 6.0px,#ffffff 9.0px,#ffffff 12.0px,#fffffe 15.0px,#fffffe 18.0px,#fffffe 21.0px,#fffffe 24.0px,#fffffd 27.0px,#fffffa 30.0px,#fffff3 33.0px,#ffffe8 36.0px,#ffffda 39.0px,#ffffc9 42.0px,#ffffb5 45.0px,#ffffa0 48.0px,#ffff85 51.0px,#ffff63 54.0px,#ffff42 57.0px,#ffff22 60.0px,#ffff05 63.0px,#fff300 66.0px,#ffe700 69.0px,#ffdd00 72.0px,#ffd700 75.0px,#ffd200 78.0px,#ffd000 81.0px,#ffce00 84.0px,#ffce00 87.0px,#ffce00 90.0px,#ffce00 93.0px,#ffce00 96.0px,#ffce00 99.0px,#ffce00 102.0px,#ffce00 105.0px,#ffcd00 108.0px,#ffcd00 111.0px,#ffcd00 114.0px,#ffcd00 117.0px,#ffcd00 120.0px,#ffcd00 123.0px,#ffcd00 126.0px,#ffcd00 129.0px,#ffcd00 132.0px,#ffcd00 135.0px,#ffcd00 138.0px,#ffcd00 141.0px,#ffcd00 144.0px,#ffcc00 147.0px,#ffc700 150.0px,#ffba00 153.0px,#ffa200 156.0px,#ff7e00 159.0px,#ff5000 162.0px,#ff2b00 165.0px,#ff1600 168.0px,#ff0600 171.0px,#fa0000 174.0px,#f20000 177.0px,#e70000 180.0px,#d70000 183.0px,#ab0000 186.0px,#750000 189.0px,#3c0000 192.0px,#160000 195.0px)"></div><div style="top:104px;background:linear-gradient(90deg,#ffffff 0.0px,#ffffff 3.0px,#ffffff 6.0px,#ffffff 9.0px,#ffffff 12.0px,#fffffe 15.0px,#fffffe 18.0px,#fffffe 21.0px,#fffffe 24.0px,#fffffc 27.0px,#fffff8 30.0px,#ffffef 33.0px,#ffffe3 36.0px,#ffffd3 39.0px,#ffffc0 42.0px,#ffffab 45.0px,#ffff93 48.0px,#ffff70 51.0px,#ffff4d 54.0px,#ffff2c 57.0px,#ffff0c 60.0px,#fff600 63.0px,#ffe900 66.0px,#ffdf00 69.0px,#ffd700 72.0px,#ffd200 75.0px,#ffd000 78.0px,#ffce00 81.0px,#ffce00 84.0px,#ffce00 87.0px,#ffce00 90.0px,#ffce00 93.0px,#ffce00 96.0px,#ffce00 99.0px,#ffcd00 102.0px,#ffcd00 105.0px,#ffcd00 108.0px,#ffcd00 111.0px,#ffcd00 114.0px,#ffcd00 117.0px,#ffcd00 120.0px,#ffcd00 123.0px,#ffcd00 126.0px,#ffcd00 129.0px,#ffcd00 132.0px,#ffcd00 135.0px,#ffcd00 138.0px,#ffcd00 141.0px,#ffcd00 144.0px,#ffcc00 147.0px,#ffc700 150.0px,#ffbb00 153.0px,#ffa400 156.0px,#ff8100 159.0px,#ff5200 162.0px,#ff2c00 165.0px,#ff1700 168.0px,#ff0700 171.0px,#fb0000 174.0px,#f30000 177.0px,#e80000 180.0px,#d90000 183.0px,#ae0000 186.0px,#790000 189.0px,#3f0000 192.0px,#180000 195.0px)"></div><div style="top:106px;background:linear-gradient(90deg,#ffffff 0.0px,#ffffff 3.0px,#ffffff 6.0px,#ffffff 9.0px,#ffffff 12.0px,#fffffe 15.0px,#fffffe 18.0px,#fffffe 21.0px,#fffffe 24.0px,#fffffb 27.0px,#fffff6 30.0px,#ffffec 33.0px,#ffffdd 36.0px,#ffffcb 39.0px,#ffffb6 42.0px,#ffff9f 45.0px,#ffff80 48.0px,#ffff5b 51.0px,#ffff37 54.0px,#ffff16 57.0px,#fffa00 60.0px,#ffec00 63.0px,#ffe000 66.0px,#ffd800 69.0px,#ffd300 72.0px,#ffd000 75.0px,#ffce00 78.0px,#ffce00 81.0px,#ffce00 84.0px,#ffce00 87.0px,#ffce00 90.0px,#ffce00 93.0px,#ffce00 96.0px,#ffcd00 99.0px,#ffcd00 102.0px,#ffcd00 105.0px,#ffcd00 108.0px,#ffcd00 111.0px,#ffcd00 114.0px,#ffcd00 117.0px,#ffcd00 120.0px,#ffcd00 123.0px,#ffcd00 126.0px,#ffcd00 129.0px,#ffcd00 132.0px,#ffcd00 135.0px,#ffcd00 138.0px,#ffcd00 141.0px,#ffcd00 144.0px,#ffcc00 147.0px,#ffc800 150.0px,#ffbc00 153.0px,#ffa500 156.0px,#ff8300 159.0px,#ff5500 162.0px,#ff2e00 165.0px,#ff1800 168.0px,#ff0800 171.0px,#fc0000 174.0px,#f40000 177.0px,#ea0000 180.0px,#da0000 183.0px,#b20000 186.0px,#7c0000 189.0px,#410000 192.0px,#190000 195.0px)"></div><div style="top:108px;background:linear-gradient(90deg,#ffffff 0.0px,#ffffff 3.0px,#ffffff 6.0px,#ffffff 9.0px,#ffffff 12.0px,#fffffe 15.0px,#fffffe 18.0px,#fffffe 21.0px,#fffffd 24.0px,#fffffa 27.0px,#fffff3 30.0px,#ffffe7 33.0px,#ffffd6 36.0px,#ffffc2 39.0px,#ffffab 42.0px,#ffff91 45.0px,#ffff6b 48.0px,#ffff45 51.0px,#ffff21 54.0px,#ffff00 57.0px,#ffef00 60.0px,#ffe200 63.0px,#ffd900 66.0px,#ffd300 69.0px,#ffd000 72.0px,#ffce00 75.0px,#ffce00 78.0px,#ffce00 81.0px,#ffce00 84.0px,#ffce00 87.0px,#ffce00 90.0px,#ffce00 93.0px,#ffcd00 96.0px,#ffcd00 99.0px,#ffcd00 102.0px,#ffcd00 105.0px,#ffcd00 108.0px,#ffcd00 111.0px,#ffcd00 114.0px,#ffcd00 117.0px,#ffcd00 120.0px,#ffcd00 123.0px,#ffcd00 126.0px,#ffcd00 129.0px,#ffcd00 132.0px,#ffcd00 135.0px,#ffcd00 138.0px,#ffcd00 141.0px,#ffcd00 144.0px,#ffcc00 147.0px,#ffc800 150.0px,#ffbd00 153.0px,#ffa700 156.0px,#ff8600 159.0px,#ff5700 162.0px,#ff2f00 165.0px,#ff1a00 168.0px,#ff0900 171.0px,#fc0000 174.0px,#f40000 177.0px,#eb0000 180.0px,#dc0000 183.0px,#b50000 186.0px,#800000 189.0px,#440000 192.0px,#1b0000 195.0px)"></div><div style="top:110px;background:linear-gradient(90deg,#ffffff 0.0px,#ffffff 3.0px,#ffffff 6.0px,#ffffff 9.0px,#ffffff 12.0px,#fffffe 15.0px,#fffffe 18.0px,#fffffe 21.0px,#fffffd 24.0px,#fffff9 27.0px,#fffff0 30.0px,#ffffe2 33.0px,#ffffcf 36.0px,#ffffb9 39.0px,#ffffa0 42.0px,#ffff7d 45.0px,#ffff55 48.0px,#ffff2e 51.0px,#ffff0b 54.0px,#fff300 57.0px,#ffe500 60.0px,#ffdb00 63.0px,#ffd400 66.0px,#ffd000 69.0px,#ffcf00 72.0px,#ffce00 75.0px,#ffce00 78.0px,#ffce00 81.0px,#ffce00 84.0px,#ffce00 87.0px,#ffce00 90.0px,#ffcd00 93.0px,#ffcd00 96.0px,#ffcd00 99.0px,#ffcd00 102.0px,#ffcd00 105.0px,#ffcd00 108.0px,#ffcd00 111.0px,#ffcd00 114.0px,#ffcd00 117.0px,#ffcd00 120.0px,#ffcd00 123.0px,#ffcd00 126.0px,#ffcd00 129.0px,#ffcd00 132.0px,#ffcd00 135.0px,#ffcd00 138.0px,#ffcd00 141.0px,#ffcd00 144.0px,#ffcc00 147.0px,#ffc800 150.0px,#ffbe00 153.0px,#ffa900 156.0px,#ff8900 159.0px,#ff5a00 162.0px,#ff3100 165.0px,#ff1b00 168.0px,#ff0a00 171.0px,#fd0000 174.0px,#f50000 177.0px,#ec0000 180.0px,#dd0000 183.0px,#b80000 186.0px,#830000 189.0px,#470000 192.0px,#1d0000 195.0px)"></div><div style="top:112px;background:linear-gradient(90deg,#ffffff 0.0px,#ffffff 3.0px,#ffffff 6.0px,#ffffff 9.0px,#ffffff 12.0px,#fffffe 15.0px,#fffffe 18.0px,#fffffe 21.0px,#fffffc 24.0px,#fffff7 27.0px,#ffffed 30.0px,#ffffdd 33.0px,#ffffc8 36.0px,#ffffb0 39.0px,#ffff94 42.0px,#ffff6a 45.0px,#ffff41 48.0px,#ffff1a 51.0px,#fffa00 54.0px,#ffe900 57.0px,#ffdd00 60.0px,#ffd500 63.0px,#ffd100 66.0px,#ffcf00 69.0px,#ffce00 72.0px,#ffce00 75.0px,#ffce00 78.0px,#ffce00 81.0px,#ffce00 84.0px,#ffce00 87.0px,#ffcd00 90.0px,#ffcd00 93.0px,#ffcd00 96.0px,#ffcd00 99.0px,#ffcd00 102.0px,#ffcd00 105.0px,#ffcd00 108.0px,#ffcd00 111.0px,#ffcd00 114.0px,#ffcd00 117.0px,#ffcd00 120.0px,#ffcd00 123.0px,#ffcd00 126.0px,#ffcd00 129.0px,#ffcd00 132.0px,#ffcd00 135.0px,#ffcd00 138.0px,#ffcd00 141.0px,#ffcd00 144.0px,#ffcc00 147.0px,#ffc900 150.0px,#ffbf00 153.0px,#ffaa00 156.0px,#ff8b00 159.0px,#ff5d00 162.0px,#ff3300 165.0px,#ff1c00 168.0px,#ff0b00 171.0px,#fe0000 174.0px,#f60000 177.0px,#ed0000 180.0px,#df0000 183.0px,#bc0000 186.0px,#860000 189.0px,#490000 192.0px,#1f0000 195.0px)"></div><div style="top:114px;background:linear-gradient(90deg,#ffffff 0.0px,#ffffff 3.0px,#ffffff 6.0px,#ffffff 9.0px,#ffffff 12.0px,#fffffe 15.0px,#fffffe 18.0px,#fffffe 21.0px,#fffffc 24.0px,#fffff6 27.0px,#ffffea 30.0px,#ffffd9 33.0px,#ffffc2 36.0px,#ffffa8 39.0px,#ffff87 42.0px,#ffff5b 45.0px,#ffff31 48.0px,#ffff09 51.0px,#fff100 54.0px,#ffe200 57.0px,#ffd800 60.0px,#ffd200 63.0px,#ffcf00 66.0px,#ffce00 69.0px,#ffce00 72.0px,#ffce00 75.0px,#ffce00 78.0px,#ffce00 81.0px,#ffce00 84.0px,#ffcd00 87.0px,#ffcd00 90.0px,#ffcd00 93.0px,#ffcd00 96.0px,#ffcd00 99.0px,#ffcd00 102.0px,#ffcd00 105.0px,#ffcd00 108.0px,#ffcd00 111.0px,#ffcd00 114.0px,#ffcd00 117.0px,#ffcd00 120.0px,#ffcd00 123.0px,#ffcd00 126.0px,#ffcd00 129.0px,#ffcd00 132.0px,#ffcd00 135.0px,#ffcd00 138.0px,#ffcd00 141.0px,#ffcd00 144.0px,#ffcd00 147.0px,#ffc900 150.0px,#ffc000 153.0px,#ffac00 156.0px,#ff8d00 159.0px,#ff5f00 162.0px,#ff3500 165.0px,#ff1d00 168.0px,#ff0c00 171.0px,#fe0000 174.0px,#f70000 177.0px,#ee0000 180.0px,#e00000 183.0px,#bf0000 186.0px,#890000 189.0px,#4c0000 192.0px,#200000 195.0px)"></div><div style="top:116px;background:linear-gradient(90deg,#ffffff 0.0px,#ffffff 3.0px,#ffffff 6.0px,#ffffff 9.0px,#ffffff 12.0px,#fffffe 15.0px,#fffffe 18.0px,#fffffe 21.0px,#fffffc 24.0px,#fffff5 27.0px,#ffffe9 30.0px,#ffffd6 33.0px,#ffffbf 36.0px,#ffffa4 39.0px,#ffff7f 42.0px,#ffff52 45.0px,#ffff27 48.0px,#fffe00 51.0px,#ffec00 54.0px,#ffdd00 57.0px,#ffd400 60.0px,#ffd000 63.0px,#ffce00 66.0px,#ffce00 69.0px,#ffce00 72.0px,#ffce00 75.0px,#ffce00 78.0px,#ffce00 81.0px,#ffcd00 84.0px,#ffcd00 87.0px,#ffcd00 90.0px,#ffcd00 93.0px,#ffcd00 96.0px,#ffcd00 99.0px,#ffcd00 102.0px,#ffcd00 105.0px,#ffcd00 108.0px,#ffcd00 111.0px,#ffcd00 114.0px,#ffcd00 117.0px,#ffcd00 120.0px,#ffcd00 123.0px,#ffcd00 126.0px,#ffcd00 129.0px,#ffcd00 132.0px,#ffcd00 135.0px,#ffcd00 138.0px,#ffcd00 141.0px,#ffcd00 144.0px,#ffcd00 147.0px,#ffca00 150.0px,#ffc100 153.0px,#ffae00 156.0px,#ff8f00 159.0px,#ff6200 162.0px,#ff3700 165.0px,#ff1f00 168.0px,#ff0d00 171.0px,#ff0000 174.0px,#f80000 177.0px,#ef0000 180.0px,#e20000 183.0px,#c30000 186.0px,#8c0000 189.0px,#4f0000 192.0px,#220000 195.0px)"></div><div style="top:118px;background:linear-gradient(90deg,#ffffff 0.0px,#ffffff 3.0px,#ffffff 6.0px,#ffffff 9.0px,#ffffff 12.0px,#fffffe 15.0px,#fffffe 18.0px,#fffffe 21.0px,#fffffc 24.0px,#fffff5 27.0px,#ffffe9 30.0px,#ffffd6 33.0px,#ffffbe 36.0px,#ffffa2 39.0px,#ffff7c 42.0px,#ffff4f 45.0px,#ffff23 48.0px,#fffc00 51.0px,#ffea00 54.0px,#ffdc00 57.0px,#ffd300 60.0px,#ffcf00 63.0px,#ffce00 66.0px,#ffce00 69.0px,#ffce00 72.0px,#ffce00 75.0px,#ffce00 78.0px,#ffcd00 81.0px,#ffcd00 84.0px,#ffcd00 87.0px,#ffcd00 90.0px,#ffcd00 93.0px,#ffcd00 96.0px,#ffcd00 99.0px,#ffcd00 102.0px,#ffcd00 105.0px,#ffcd00 108.0px,#ffcd00 111.0px,#ffcd00 114.0px,#ffcd00 117.0px,#ffcd00 120.0px,#ffcd00 123.0px,#ffcd00 126.0px,#ffcd00 129.0px,#ffcd00 132.0px,#ffcd00 135.0px,#ffcd00 138.0px,#ffcd00 141.0px,#ffcd00 144.0px,#ffcd00 147.0px,#ffca00 150.0px,#ffc200 153.0px,#ffaf00 156.0px,#ff9100 159.0px,#ff6400 162.0px,#ff3a00 165.0px,#ff2000 168.0px,#ff0e00 171.0px,#ff0100 174.0px,#f80000 177.0px,#f10000 180.0px,#e40000 183.0px,#c60000 186.0px,#8f0000 189.0px,#520000 192.0px,#240000 195.0px)"></div><div style="top:120px;background:linear-gradient(90deg,#ffffff 0.0px,#ffffff 3.0px,#ffffff 6.0px,#ffffff 9.0px,#ffffff 12.0px,#fffffe 15.0px,#fffffe 18.0px,#fffffe 21.0px,#fffffc 24.0px,#fffff6 27.0px,#ffffea 30.0px,#ffffd7 33.0px,#ffffbf 36.0px,#ffffa4 39.0px,#ffff7e 42.0px,#ffff51 45.0px,#ffff25 48.0px,#fffd00 51.0px,#ffea00 54.0px,#ffdc00 57.0px,#ffd300 60.0px,#ffcf00 63.0px,#ffce00 66.0px,#ffce00 69.0px,#ffce00 72.0px,#ffce00 75.0px,#ffcd00 78.0px,#ffcd00 81.0px,#ffcd00 84.0px,#ffcd00 87.0px,#ffcd00 90.0px,#ffcd00 93.0px,#ffcd00 96.0px,#ffcd00 99.0px,#ffcd00 102.0px,#ffcd00 105.0px,#ffcd00 108.0px,#ffcd00 111.0px,#ffcd00 114.0px,#ffcd00 117.0px,#ffcd00 120.0px,#ffcd00 123.0px,#ffcd00 126.0px,#ffcd00 129.0px,#ffcd00 132.0px,#ffcd00 135.0px,#ffcd00 138.0px,#ffcd00 141.0px,#ffcd00 144.0px,#ffcd00 147.0px,#ffcb00 150.0px,#ffc300 153.0px,#ffb100 156.0px,#ff9300 159.0px,#ff6700 162.0px,#ff3c00 165.0px,#ff2100 168.0px,#ff0f00 171.0px,#ff0200 174.0px,#f90000 177.0px,#f20000 180.0px,#e50000 183.0px,#ca0000 186.0px,#920000 189.0px,#540000 192.0px,#260000 195.0px)"></div><div style="top:122px;background:linear-gradient(90deg,#ffffff 0.0px,#ffffff 3.0px,#ffffff 6.0px,#ffffff 9.0px,#ffffff 12.0px,#fffffe 15.0px,#fffffe 18.0px,#fffffe 21.0px,#fffffc 24.0px,#fffff7 27.0px,#ffffeb 30.0px,#ffffd9 33.0px,#ffffc2 36.0px,#ffffa7 39.0px,#ffff84 42.0px,#ffff56 45.0px,#ffff2a 48.0px,#ffff01 51.0px,#ffec00 54.0px,#ffdd00 57.0px,#ffd400 60.0px,#ffd000 63.0px,#ffce00 66.0px,#ffce00 69.0px,#ffce00 72.0px,#ffce00 75.0px,#ffce00 78.0px,#ffce00 81.0px,#ffce00 84.0px,#ffce00 87.0px,#ffce00 90.0px,#ffce00 93.0px,#ffce00 96.0px,#ffce00 99.0px,#ffce00 102.0px,#ffce00 105.0px,#ffce00 108.0px,#ffce00 111.0px,#ffce00 114.0px,#ffce00 117.0px,#ffce00 120.0px,#ffce00 123.0px,#ffce00 126.0px,#ffce00 129.0px,#ffce00 132.0px,#ffce00 135.0px,#ffce00 138.0px,#ffce00 141.0px,#ffcd00 144.0px,#ffcd00 147.0px,#ffcb00 150.0px,#ffc400 153.0px,#ffb300 156.0px,#ff9500 159.0px,#ff6900 162.0px,#ff3e00 165.0px,#ff2300 168.0px,#ff1000 171.0px,#ff0300 174.0px,#fa0000 177.0px,#f30000 180.0px,#e70000 183.0px,#cd0000 186.0px,#950000 189.0px,#570000 192.0px,#270000 195.0px)"></div><div style="top:124px;background:linear-gradient(90deg,#ffffff 0.0px,#ffffff 3.0px,#ffffff 6.0px,#ffffff 9.0px,#ffffff 12.0px,#fffffe 15.0px,#fffffe 18.0px,#fffffe 21.0px,#fffffd 24.0px,#fffff7 27.0px,#ffffed 30.0px,#ffffdc 33.0px,#ffffc6 36.0px,#ffffab 39.0px,#ffff8b 42.0px,#ffff5e 45.0px,#ffff32 48.0px,#ffff09 51.0px,#fff000 54.0px,#ffe100 57.0px,#ffd600 60.0px,#ffd100 63.0px,#ffcf00 66.0px,#ffce00 69.0px,#ffce00 72.0px,#ffce00 75.0px,#ffce00 78.0px,#ffce00 81.0px,#ffce00 84.0px,#ffce00 87.0px,#ffce00 90.0px,#ffce00 93.0px,#ffce00 96.0px,#ffce00 99.0px,#ffce00 102.0px,#ffce00 105.0px,#ffce00 108.0px,#ffce00 111.0px,#ffce00 114.0px,#ffce00 117.0px,#ffce00 120.0px,#ffce00 123.0px,#ffce00 126.0px,#ffce00 129.0px,#ffce00 132.0px,#ffce00 135.0px,#ffce00 138.0px,#ffce00 141.0px,#ffce00 144.0px,#ffcd00 147.0px,#ffcc00 150.0px,#ffc500 153.0px,#ffb400 156.0px,#ff9700 159.0px,#ff6c00 162.0px,#ff4100 165.0px,#ff2400 168.0px,#ff1100 171.0px,#ff0300 174.0px,#fb0000 177.0px,#f40000 180.0px,#e80000 183.0px,#d00000 186.0px,#980000 189.0px,#5a0000 192.0px,#290000 195.0px)"></div><div style="top:126px;background:linear-gradient(90deg,#ffffff 0.0px,#ffffff 3.0px,#ffffff 6.0px,#ffffff 9.0px,#ffffff 12.0px,#fffffe 15.0px,#fffffe 18.0px,#fffffe 21.0px,#fffffd 24.0px,#fffff9 27.0px,#ffffef 30.0px,#ffffe0 33.0px,#ffffcb 36.0px,#ffffb2 39.0px,#ffff96 42.0px,#ffff6a 45.0px,#ffff3e 48.0px,#ffff15 51.0px,#fff700 54.0px,#ffe600 57.0px,#ffda00 60.0px,#ffd300 63.0px,#ffd000 66.0px,#ffcf00 69.0px,#ffce00 72.0px,#ffce00 75.0px,#ffce00 78.0px,#ffce00 81.0px,#ffce00 84.0px,#ffce00 87.0px,#ffce00 90.0px,#ffce00 93.0px,#ffce00 96.0px,#ffce00 99.0px,#ffce00 102.0px,#ffce00 105.0px,#ffce00 108.0px,#ffce00 111.0px,#ffce00 114.0px,#ffce00 117.0px,#ffce00 120.0px,#ffce00 123.0px,#ffce00 126.0px,#ffce00 129.0px,#ffce00 132.0px,#ffce00 135.0px,#ffce00 138.0px,#ffce00 141.0px,#ffce00 144.0px,#ffce00 147.0px,#ffcc00 150.0px,#ffc600 153.0px,#ffb600 156.0px,#ff9900 159.0px,#ff6e00 162.0px,#ff4300 165.0px,#ff2500 168.0px,#ff1200 171.0px,#ff0400 174.0px,#fc0000 177.0px,#f50000 180.0px,#e90000 183.0px,#d40000 186.0px,#9b0000 189.0px,#5d0000 192.0px,#2b0000 195.0px)"></div><div style="top:128px;background:linear-gradient(90deg,#ffffff 0.0px,#ffffff 3.0px,#ffffff 6.0px,#ffffff 9.0px,#ffffff 12.0px,#fffffe 15.0px,#fffffe 18.0px,#fffffe 21.0px,#fffffd 24.0px,#fffffa 27.0px,#fffff2 30.0px,#ffffe4 33.0px,#ffffd1 36.0px,#ffffba 39.0px,#ffffa0 42.0px,#ffff7b 45.0px,#ffff51 48.0px,#ffff28 51.0px,#ffff04 54.0px,#ffef00 57.0px,#ffe200 60.0px,#ffd900 63.0px,#ffd400 66.0px,#ffd100 69.0px,#ffd000 72.0px,#ffcf00 75.0px,#ffcf00 78.0px,#ffce00 81.0px,#ffce00 84.0px,#ffce00 87.0px,#ffce00 90.0px,#ffce00 93.0px,#ffce00 96.0px,#ffce00 99.0px,#ffce00 102.0px,#ffce00 105.0px,#ffce00 108.0px,#ffce00 111.0px,#ffce00 114.0px,#ffce00 117.0px,#ffce00 120.0px,#ffce00 123.0px,#ffce00 126.0px,#ffce00 129.0px,#ffce00 132.0px,#ffce00 135.0px,#ffce00 138.0px,#ffce00 141.0px,#ffce00 144.0px,#ffce00 147.0px,#ffcd00 150.0px,#ffc800 153.0px,#ffb800 156.0px,#ff9b00 159.0px,#ff7100 162.0px,#ff4600 165.0px,#ff2700 168.0px,#ff1300 171.0px,#ff0500 174.0px,#fc0000 177.0px,#f60000 180.0px,#eb0000 183.0px,#d70000 186.0px,#9e0000 189.0px,#600000 192.0px,#2e0000 195.0px)"></div><div style="top:130px;background:linear-gradient(90deg,#ffffff 0.0px,#ffffff 3.0px,#ffffff 6.0px,#ffffff 9.0px,#ffffff 12.0px,#fffffe 15.0px,#fffffe 18.0px,#fffffe 21.0px,#fffffe 24.0px,#fffffb 27.0px,#fffff5 30.0px,#ffffea 33.0px,#ffffd9 36.0px,#ffffc5 39.0px,#ffffad 42.0px,#ffff92 45.0px,#ffff6a 48.0px,#ffff42 51.0px,#ffff1e 54.0px,#fffd00 57.0px,#ffee00 60.0px,#ffe300 63.0px,#ffdb00 66.0px,#ffd600 69.0px,#ffd300 72.0px,#ffd100 75.0px,#ffd000 78.0px,#ffd000 81.0px,#ffd000 84.0px,#ffd000 87.0px,#ffd000 90.0px,#ffd000 93.0px,#ffd000 96.0px,#ffd000 99.0px,#ffd000 102.0px,#ffd000 105.0px,#ffd000 108.0px,#ffd000 111.0px,#ffd000 114.0px,#ffd000 117.0px,#ffd000 120.0px,#ffd000 123.0px,#ffd000 126.0px,#ffd000 129.0px,#ffd000 132.0px,#ffd000 135.0px,#ffd000 138.0px,#ffd000 141.0px,#ffd000 144.0px,#ffcf00 147.0px,#ffce00 150.0px,#ffc900 153.0px,#ffb900 156.0px,#ff9d00 159.0px,#ff7400 162.0px,#ff4800 165.0px,#ff2800 168.0px,#ff1400 171.0px,#ff0600 174.0px,#fd0000 177.0px,#f70000 180.0px,#ec0000 183.0px,#d80000 186.0px,#a20000 189.0px,#640000 192.0px,#320000 195.0px)"></div><div style="top:132px;background:linear-gradient(90deg,#ffffff 0.0px,#ffffff 3.0px,#ffffff 6.0px,#ffffff 9.0px,#ffffff 12.0px,#fffffe 15.0px,#fffffe 18.0px,#fffffe 21.0px,#fffffe 24.0px,#fffffc 27.0px,#fffff8 30.0px,#ffffef 33.0px,#ffffe2 36.0px,#ffffd0 39.0px,#ffffbb 42.0px,#ffffa4 45.0px,#ffff87 48.0px,#ffff62 51.0px,#ffff3e 54.0px,#ffff1c 57.0px,#fffe00 60.0px,#fff000 63.0px,#ffe600 66.0px,#ffde00 69.0px,#ffd900 72.0px,#ffd500 75.0px,#ffd300 78.0px,#ffd200 81.0px,#ffd200 84.0px,#ffd200 87.0px,#ffd100 90.0px,#ffd100 93.0px,#ffd100 96.0px,#ffd100 99.0px,#ffd100 102.0px,#ffd100 105.0px,#ffd100 108.0px,#ffd100 111.0px,#ffd100 114.0px,#ffd100 117.0px,#ffd100 120.0px,#ffd100 123.0px,#ffd100 126.0px,#ffd100 129.0px,#ffd100 132.0px,#ffd100 135.0px,#ffd100 138.0px,#ffd100 141.0px,#ffd100 144.0px,#ffd100 147.0px,#ffd000 150.0px,#ffcb00 153.0px,#ffbb00 156.0px,#ff9f00 159.0px,#ff7700 162.0px,#ff4b00 165.0px,#ff2a00 168.0px,#ff1600 171.0px,#ff0800 174.0px,#fe0000 177.0px,#f80000 180.0px,#ed0000 183.0px,#d90000 186.0px,#a50000 189.0px,#690000 192.0px,#370000 195.0px)"></div><div style="top:134px;background:linear-gradient(90deg,#ffffff 0.0px,#ffffff 3.0px,#ffffff 6.0px,#ffffff 9.0px,#ffffff 12.0px,#fffffe 15.0px,#fffffe 18.0px,#fffffe 21.0px,#fffffe 24.0px,#fffffd 27.0px,#fffffa 30.0px,#fffff4 33.0px,#ffffea 36.0px,#ffffdc 39.0px,#ffffca 42.0px,#ffffb6 45.0px,#ffffa0 48.0px,#ffff83 51.0px,#ffff61 54.0px,#ffff40 57.0px,#ffff21 60.0px,#ffff06 63.0px,#fff500 66.0px,#ffea00 69.0px,#ffe200 72.0px,#ffdd00 75.0px,#ffd900 78.0px,#ffd700 81.0px,#ffd500 84.0px,#ffd400 87.0px,#ffd400 90.0px,#ffd400 93.0px,#ffd400 96.0px,#ffd400 99.0px,#ffd400 102.0px,#ffd400 105.0px,#ffd400 108.0px,#ffd400 111.0px,#ffd400 114.0px,#ffd400 117.0px,#ffd400 120.0px,#ffd400 123.0px,#ffd400 126.0px,#ffd400 129.0px,#ffd400 132.0px,#ffd400 135.0px,#ffd400 138.0px,#ffd400 141.0px,#ffd400 144.0px,#ffd400 147.0px,#ffd300 150.0px,#ffcd00 153.0px,#ffbd00 156.0px,#ffa100 159.0px,#ff7a00 162.0px,#ff4f00 165.0px,#ff2c00 168.0px,#ff1800 171.0px,#ff0900 174.0px,#fe0000 177.0px,#f80000 180.0px,#ee0000 183.0px,#db0000 186.0px,#a90000 189.0px,#6e0000 192.0px,#3c0000 195.0px)"></div><div style="top:136px;background:linear-gradient(90deg,#ffffff 0.0px,#ffffff 3.0px,#ffffff 6.0px,#ffffff 9.0px,#ffffff 12.0px,#ffffff 15.0px,#fffffe 18.0px,#fffffe 21.0px,#fffffe 24.0px,#fffffe 27.0px,#fffffc 30.0px,#fffff8 33.0px,#fffff0 36.0px,#ffffe5 39.0px,#ffffd7 42.0px,#ffffc6 45.0px,#ffffb3 48.0px,#ffff9f 51.0px,#ffff84 54.0px,#ffff64 57.0px,#ffff45 60.0px,#ffff29 63.0px,#ffff0f 66.0px,#fffa00 69.0px,#fff000 72.0px,#ffe800 75.0px,#ffe200 78.0px,#ffdd00 81.0px,#ffda00 84.0px,#ffd900 87.0px,#ffd800 90.0px,#ffd700 93.0px,#ffd700 96.0px,#ffd700 99.0px,#ffd700 102.0px,#ffd700 105.0px,#ffd700 108.0px,#ffd700 111.0px,#ffd700 114.0px,#ffd700 117.0px,#ffd700 120.0px,#ffd700 123.0px,#ffd700 126.0px,#ffd700 129.0px,#ffd700 132.0px,#ffd700 135.0px,#ffd700 138.0px,#ffd700 141.0px,#ffd700 144.0px,#ffd600 147.0px,#ffd500 150.0px,#ffcf00 153.0px,#ffbf00 156.0px,#ffa300 159.0px,#ff7d00 162.0px,#ff5200 165.0px,#ff2e00 168.0px,#ff1a00 171.0px,#ff0a00 174.0px,#ff0000 177.0px,#f90000 180.0px,#ee0000 183.0px,#dc0000 186.0px,#ad0000 189.0px,#740000 192.0px,#430000 195.0px)"></div><div style="top:138px;background:linear-gradient(90deg,#ffffff 0.0px,#ffffff 3.0px,#ffffff 6.0px,#ffffff 9.0px,#ffffff 12.0px,#ffffff 15.0px,#fffffe 18.0px,#fffffe 21.0px,#fffffe 24.0px,#fffffe 27.0px,#fffffd 30.0px,#fffffb 33.0px,#fffff6 36.0px,#ffffed 39.0px,#ffffe2 42.0px,#ffffd4 45.0px,#ffffc4 48.0px,#ffffb2 51.0px,#ffff9f 54.0px,#ffff87 57.0px,#ffff69 60.0px,#ffff4d 63.0px,#ffff32 66.0px,#ffff19 69.0px,#ffff03 72.0px,#fff600 75.0px,#ffed00 78.0px,#ffe700 81.0px,#ffe200 84.0px,#ffdf00 87.0px,#ffdc00 90.0px,#ffdb00 93.0px,#ffda00 96.0px,#ffda00 99.0px,#ffda00 102.0px,#ffda00 105.0px,#ffda00 108.0px,#ffda00 111.0px,#ffda00 114.0px,#ffda00 117.0px,#ffda00 120.0px,#ffda00 123.0px,#ffda00 126.0px,#ffda00 129.0px,#ffda00 132.0px,#ffda00 135.0px,#ffda00 138.0px,#ffda00 141.0px,#ffda00 144.0px,#ffd900 147.0px,#ffd800 150.0px,#ffd200 153.0px,#ffc100 156.0px,#ffa500 159.0px,#ff8100 162.0px,#ff5600 165.0px,#ff3100 168.0px,#ff1c00 171.0px,#ff0c00 174.0px,#ff0100 177.0px,#f90000 180.0px,#ef0000 183.0px,#dd0000 186.0px,#b10000 189.0px,#7a0000 192.0px,#4a0000 195.0px)"></div><div style="top:140px;background:linear-gradient(90deg,#ffffff 0.0px,#ffffff 3.0px,#ffffff 6.0px,#ffffff 9.0px,#ffffff 12.0px,#ffffff 15.0px,#fffffe 18.0px,#fffffe 21.0px,#fffffe 24.0px,#fffffe 27.0px,#fffffe 30.0px,#fffffc 33.0px,#fffff9 36.0px,#fffff3 39.0px,#ffffeb 42.0px,#ffffe0 45.0px,#ffffd2 48.0px,#ffffc3 51.0px,#ffffb2 54.0px,#ffffa1 57.0px,#ffff8b 60.0px,#ffff6f 63.0px,#ffff55 66.0px,#ffff3b 69.0px,#ffff23 72.0px,#ffff0e 75.0px,#fffc00 78.0px,#fff300 81.0px,#ffec00 84.0px,#ffe700 87.0px,#ffe300 90.0px,#ffe000 93.0px,#ffdf00 96.0px,#ffde00 99.0px,#ffdd00 102.0px,#ffdd00 105.0px,#ffdd00 108.0px,#ffdd00 111.0px,#ffdd00 114.0px,#ffdd00 117.0px,#ffdd00 120.0px,#ffdd00 123.0px,#ffdd00 126.0px,#ffdd00 129.0px,#ffdd00 132.0px,#ffdd00 135.0px,#ffdd00 138.0px,#ffdd00 141.0px,#ffdd00 144.0px,#ffdd00 147.0px,#ffdb00 150.0px,#ffd500 153.0px,#ffc400 156.0px,#ffa700 159.0px,#ff8400 162.0px,#ff5a00 165.0px,#ff3400 168.0px,#ff1e00 171.0px,#ff0e00 174.0px,#ff0200 177.0px,#fa0000 180.0px,#ef0000 183.0px,#de0000 186.0px,#b50000 189.0px,#810000 192.0px,#510000 195.0px)"></div><div style="top:142px;background:linear-gradient(90deg,#ffffff 0.0px,#ffffff 3.0px,#ffffff 6.0px,#ffffff 9.0px,#ffffff 12.0px,#ffffff 15.0px,#fffffe 18.0px,#fffffe 21.0px,#fffffe 24.0px,#fffffe 27.0px,#fffffe 30.0px,#fffffd 33.0px,#fffffc 36.0px,#fffff8 39.0px,#fffff1 42.0px,#ffffe9 45.0px,#ffffde 48.0px,#ffffd1 51.0px,#ffffc2 54.0px,#ffffb3 57.0px,#ffffa2 60.0px,#ffff8f 63.0px,#ffff76 66.0px,#ffff5d 69.0px,#ffff45 72.0px,#ffff2e 75.0px,#ffff19 78.0px,#ffff07 81.0px,#fffa00 84.0px,#fff200 87.0px,#ffec00 90.0px,#ffe800 93.0px,#ffe500 96.0px,#ffe300 99.0px,#ffe200 102.0px,#ffe100 105.0px,#ffe000 108.0px,#ffe000 111.0px,#ffe000 114.0px,#ffe000 117.0px,#ffe000 120.0px,#ffe000 123.0px,#ffe000 126.0px,#ffe000 129.0px,#ffe000 132.0px,#ffe000 135.0px,#ffe000 138.0px,#ffe000 141.0px,#ffe000 144.0px,#ffe000 147.0px,#ffde00 150.0px,#ffd800 153.0px,#ffc600 156.0px,#ffaa00 159.0px,#ff8800 162.0px,#ff5e00 165.0px,#ff3800 168.0px,#ff2000 171.0px,#ff0f00 174.0px,#ff0400 177.0px,#fa0000 180.0px,#f00000 183.0px,#e00000 186.0px,#ba0000 189.0px,#870000 192.0px,#580000 195.0px)"></div><div style="top:144px;background:linear-gradient(90deg,#ffffff 0.0px,#ffffff 3.0px,#ffffff 6.0px,#ffffff 9.0px,#ffffff 12.0px,#ffffff 15.0px,#ffffff 18.0px,#fffffe 21.0px,#fffffe 24.0px,#fffffe 27.0px,#fffffe 30.0px,#fffffe 33.0px,#fffffd 36.0px,#fffffb 39.0px,#fffff6 42.0px,#fffff0 45.0px,#ffffe7 48.0px,#ffffdc 51.0px,#ffffd0 54.0px,#ffffc2 57.0px,#ffffb4 60.0px,#ffffa4 63.0px,#ffff94 66.0px,#ffff7c 69.0px,#ffff65 72.0px,#ffff4e 75.0px,#ffff38 78.0px,#ffff24 81.0px,#ffff12 84.0px,#ffff02 87.0px,#fff800 90.0px,#fff200 93.0px,#ffed00 96.0px,#ffea00 99.0px,#ffe700 102.0px,#ffe600 105.0px,#ffe500 108.0px,#ffe400 111.0px,#ffe400 114.0px,#ffe400 117.0px,#ffe400 120.0px,#ffe400 123.0px,#ffe400 126.0px,#ffe400 129.0px,#ffe400 132.0px,#ffe400 135.0px,#ffe400 138.0px,#ffe400 141.0px,#ffe400 144.0px,#ffe400 147.0px,#ffe200 150.0px,#ffdb00 153.0px,#ffc900 156.0px,#ffad00 159.0px,#ff8c00 162.0px,#ff6200 165.0px,#ff3c00 168.0px,#ff2300 171.0px,#ff1200 174.0px,#ff0500 177.0px,#fb0000 180.0px,#f10000 183.0px,#e10000 186.0px,#bf0000 189.0px,#8d0000 192.0px,#600000 195.0px)"></div><div style="top:146px;background:linear-gradient(90deg,#ffffff 0.0px,#ffffff 3.0px,#ffffff 6.0px,#ffffff 9.0px,#ffffff 12.0px,#ffffff 15.0px,#ffffff 18.0px,#fffffe 21.0px,#fffffe 24.0px,#fffffe 27.0px,#fffffe 30.0px,#fffffe 33.0px,#fffffe 36.0px,#fffffc 39.0px,#fffff9 42.0px,#fffff5 45.0px,#ffffee 48.0px,#ffffe5 51.0px,#ffffdb 54.0px,#ffffcf 57.0px,#ffffc3 60.0px,#ffffb5 63.0px,#ffffa6 66.0px,#ffff98 69.0px,#ffff82 72.0px,#ffff6c 75.0px,#ffff57 78.0px,#ffff42 81.0px,#ffff2e 84.0px,#ffff1d 87.0px,#ffff0d 90.0px,#fffe00 93.0px,#fff800 96.0px,#fff300 99.0px,#ffef00 102.0px,#ffec00 105.0px,#ffea00 108.0px,#ffe900 111.0px,#ffe800 114.0px,#ffe800 117.0px,#ffe800 120.0px,#ffe800 123.0px,#ffe800 126.0px,#ffe800 129.0px,#ffe800 132.0px,#ffe800 135.0px,#ffe800 138.0px,#ffe800 141.0px,#ffe800 144.0px,#ffe700 147.0px,#ffe600 150.0px,#ffde00 153.0px,#ffcb00 156.0px,#ffb000 159.0px,#ff8f00 162.0px,#ff6700 165.0px,#ff4100 168.0px,#ff2600 171.0px,#ff1400 174.0px,#ff0600 177.0px,#fc0000 180.0px,#f20000 183.0px,#e30000 186.0px,#c40000 189.0px,#930000 192.0px,#680000 195.0px)"></div><div style="top:148px;background:linear-gradient(90deg,#ffffff 0.0px,#ffffff 3.0px,#ffffff 6.0px,#ffffff 9.0px,#ffffff 12.0px,#ffffff 15.0px,#ffffff 18.0px,#ffffff 21.0px,#fffffe 24.0px,#fffffe 27.0px,#fffffe 30.0px,#fffffe 33.0px,#fffffe 36.0px,#fffffd 39.0px,#fffffc 42.0px,#fffff8 45.0px,#fffff3 48.0px,#ffffec 51.0px,#ffffe4 54.0px,#ffffda 57.0px,#ffffcf 60.0px,#ffffc3 63.0px,#ffffb6 66.0px,#ffffa8 69.0px,#ffff9a 72.0px,#ffff88 75.0px,#ffff73 78.0px,#ffff5e 81.0px,#ffff4b 84.0px,#ffff38 87.0px,#ffff27 90.0px,#ffff17 93.0px,#ffff09 96.0px,#fffd00 99.0px,#fff800 102.0px,#fff400 105.0px,#fff100 108.0px,#ffee00 111.0px,#ffed00 114.0px,#ffec00 117.0px,#ffec00 120.0px,#ffec00 123.0px,#ffec00 126.0px,#ffec00 129.0px,#ffec00 132.0px,#ffec00 135.0px,#ffec00 138.0px,#ffec00 141.0px,#ffec00 144.0px,#ffeb00 147.0px,#ffea00 150.0px,#ffe200 153.0px,#ffce00 156.0px,#ffb300 159.0px,#ff9300 162.0px,#ff6b00 165.0px,#ff4600 168.0px,#ff2800 171.0px,#ff1600 174.0px,#ff0800 177.0px,#fd0000 180.0px,#f30000 183.0px,#e50000 186.0px,#c90000 189.0px,#990000 192.0px,#700000 195.0px)"></div><div style="top:150px;background:linear-gradient(90deg,#ffffff 0.0px,#ffffff 3.0px,#ffffff 6.0px,#ffffff 9.0px,#ffffff 12.0px,#ffffff 15.0px,#ffffff 18.0px,#ffffff 21.0px,#fffffe 24.0px,#fffffe 27.0px,#fffffe 30.0px,#fffffe 33.0px,#fffffe 36.0px,#fffffe 39.0px,#fffffd 42.0px,#fffffb 45.0px,#fffff7 48.0px,#fffff2 51.0px,#ffffeb 54.0px,#ffffe3 57.0px,#ffffd9 60.0px,#ffffcf 63.0px,#ffffc3 66.0px,#ffffb7 69.0px,#ffffaa 72.0px,#ffff9d 75.0px,#ffff8c 78.0px,#ffff79 81.0px,#ffff65 84.0px,#ffff52 87.0px,#ffff40 90.0px,#ffff2f 93.0px,#ffff20 96.0px,#ffff12 99.0px,#ffff06 102.0px,#fffd00 105.0px,#fff800 108.0px,#fff500 111.0px,#fff300 114.0px,#fff100 117.0px,#fff000 120.0px,#fff000 123.0px,#fff000 126.0px,#fff000 129.0px,#fff000 132.0px,#fff000 135.0px,#fff000 138.0px,#fff000 141.0px,#fff000 144.0px,#ffef00 147.0px,#ffee00 150.0px,#ffe600 153.0px,#ffd200 156.0px,#ffb600 159.0px,#ff9600 162.0px,#ff7000 165.0px,#ff4a00 168.0px,#ff2b00 171.0px,#ff1800 174.0px,#ff0a00 177.0px,#fe0000 180.0px,#f40000 183.0px,#e70000 186.0px,#ce0000 189.0px,#a00000 192.0px,#790000 195.0px)"></div><div style="top:152px;background:linear-gradient(90deg,#ffffff 0.0px,#ffffff 3.0px,#ffffff 6.0px,#ffffff 9.0px,#ffffff 12.0px,#ffffff 15.0px,#ffffff 18.0px,#ffffff 21.0px,#ffffff 24.0px,#fffffe 27.0px,#fffffe 30.0px,#fffffe 33.0px,#fffffe 36.0px,#fffffe 39.0px,#fffffe 42.0px,#fffffc 45.0px,#fffffa 48.0px,#fffff6 51.0px,#fffff1 54.0px,#ffffea 57.0px,#ffffe2 60.0px,#ffffd8 63.0px,#ffffce 66.0px,#ffffc3 69.0px,#ffffb7 72.0px,#ffffab 75.0px,#ffff9e 78.0px,#ffff90 81.0px,#ffff7d 84.0px,#ffff6a 87.0px,#ffff58 90.0px,#ffff46 93.0px,#ffff36 96.0px,#ffff27 99.0px,#ffff19 102.0px,#ffff0d 105.0px,#ffff03 108.0px,#fffc00 111.0px,#fff900 114.0px,#fff600 117.0px,#fff500 120.0px,#fff400 123.0px,#fff400 126.0px,#fff400 129.0px,#fff400 132.0px,#fff400 135.0px,#fff400 138.0px,#fff400 141.0px,#fff400 144.0px,#fff300 147.0px,#fff100 150.0px,#ffe900 153.0px,#ffd500 156.0px,#ffb900 159.0px,#ff9900 162.0px,#ff7500 165.0px,#ff4f00 168.0px,#ff2e00 171.0px,#ff1a00 174.0px,#ff0b00 177.0px,#ff0000 180.0px,#f60000 183.0px,#e80000 186.0px,#d40000 189.0px,#a60000 192.0px,#810000 195.0px)"></div><div style="top:154px;background:linear-gradient(90deg,#ffffff 0.0px,#ffffff 3.0px,#ffffff 6.0px,#ffffff 9.0px,#ffffff 12.0px,#ffffff 15.0px,#ffffff 18.0px,#ffffff 21.0px,#ffffff 24.0px,#fffffe 27.0px,#fffffe 30.0px,#fffffe 33.0px,#fffffe 36.0px,#fffffe 39.0px,#fffffe 42.0px,#fffffd 45.0px,#fffffc 48.0px,#fffff9 51.0px,#fffff5 54.0px,#fffff0 57.0px,#ffffe9 60.0px,#ffffe1 63.0px,#ffffd7 66.0px,#ffffcd 69.0px,#ffffc3 72.0px,#ffffb7 75.0px,#ffffab 78.0px,#ffff9f 81.0px,#ffff92 84.0px,#ffff7f 87.0px,#ffff6d 90.0px,#ffff5c 93.0px,#ffff4b 96.0px,#ffff3b 99.0px,#ffff2c 102.0px,#ffff1f 105.0px,#ffff13 108.0px,#ffff0a 111.0px,#ffff02 114.0px,#fffc00 117.0px,#fffa00 120.0px,#fff900 123.0px,#fff800 126.0px,#fff800 129.0px,#fff700 132.0px,#fff700 135.0px,#fff700 138.0px,#fff700 141.0px,#fff700 144.0px,#fff700 147.0px,#fff500 150.0px,#ffed00 153.0px,#ffd800 156.0px,#ffbb00 159.0px,#ff9c00 162.0px,#ff7900 165.0px,#ff5300 168.0px,#ff3100 171.0px,#ff1d00 174.0px,#ff0d00 177.0px,#ff0100 180.0px,#f70000 183.0px,#ea0000 186.0px,#d80000 189.0px,#ac0000 192.0px,#880000 195.0px)"></div><div style="top:156px;background:linear-gradient(90deg,#ffffff 0.0px,#ffffff 3.0px,#ffffff 6.0px,#ffffff 9.0px,#ffffff 12.0px,#ffffff 15.0px,#ffffff 18.0px,#ffffff 21.0px,#ffffff 24.0px,#ffffff 27.0px,#fffffe 30.0px,#fffffe 33.0px,#fffffe 36.0px,#fffffe 39.0px,#fffffe 42.0px,#fffffe 45.0px,#fffffd 48.0px,#fffffb 51.0px,#fffff8 54.0px,#fffff4 57.0px,#ffffee 60.0px,#ffffe7 63.0px,#ffffdf 66.0px,#ffffd6 69.0px,#ffffcc 72.0px,#ffffc2 75.0px,#ffffb7 78.0px,#ffffab 81.0px,#ffff9f 84.0px,#ffff93 87.0px,#ffff81 90.0px,#ffff6f 93.0px,#ffff5e 96.0px,#ffff4e 99.0px,#ffff3f 102.0px,#ffff31 105.0px,#ffff24 108.0px,#ffff18 111.0px,#ffff0f 114.0px,#ffff07 117.0px,#ffff02 120.0px,#fffd00 123.0px,#fffc00 126.0px,#fffb00 129.0px,#fffb00 132.0px,#fffb00 135.0px,#fffb00 138.0px,#fffb00 141.0px,#fffb00 144.0px,#fffb00 147.0px,#fff800 150.0px,#fff000 153.0px,#ffdb00 156.0px,#ffbe00 159.0px,#ff9f00 162.0px,#ff7e00 165.0px,#ff5700 168.0px,#ff3400 171.0px,#ff1e00 174.0px,#ff0e00 177.0px,#ff0200 180.0px,#f70000 183.0px,#eb0000 186.0px,#da0000 189.0px,#b20000 192.0px,#8e0000 195.0px)"></div><div style="top:158px;background:linear-gradient(90deg,#ffffff 0.0px,#ffffff 3.0px,#ffffff 6.0px,#ffffff 9.0px,#ffffff 12.0px,#ffffff 15.0px,#ffffff 18.0px,#ffffff 21.0px,#ffffff 24.0px,#ffffff 27.0px,#fffffe 30.0px,#fffffe 33.0px,#fffffe 36.0px,#fffffe 39.0px,#fffffe 42.0px,#fffffe 45.0px,#fffffe 48.0px,#fffffd 51.0px,#fffffb 54.0px,#fffff8 57.0px,#fffff3 60.0px,#ffffed 63.0px,#ffffe6 66.0px,#ffffde 69.0px,#ffffd5 72.0px,#ffffcb 75.0px,#ffffc1 78.0px,#ffffb6 81.0px,#ffffab 84.0px,#ffffa0 87.0px,#ffff93 90.0px,#ffff82 93.0px,#ffff71 96.0px,#ffff61 99.0px,#ffff51 102.0px,#ffff42 105.0px,#ffff34 108.0px,#ffff28 111.0px,#ffff1d 114.0px,#ffff14 117.0px,#ffff0c 120.0px,#ffff07 123.0px,#ffff03 126.0px,#ffff01 129.0px,#ffff00 132.0px,#fffe00 135.0px,#fffe00 138.0px,#fffe00 141.0px,#fffe00 144.0px,#fffe00 147.0px,#fffb00 150.0px,#fff200 153.0px,#ffde00 156.0px,#ffc000 159.0px,#ffa200 162.0px,#ff8100 165.0px,#ff5b00 168.0px,#ff3700 171.0px,#ff2000 174.0px,#ff0f00 177.0px,#ff0200 180.0px,#f80000 183.0px,#ed0000 186.0px,#dc0000 189.0px,#b70000 192.0px,#940000 195.0px)"></div><div style="top:160px;background:linear-gradient(90deg,#ffffff 0.0px,#ffffff 3.0px,#ffffff 6.0px,#ffffff 9.0px,#ffffff 12.0px,#ffffff 15.0px,#ffffff 18.0px,#ffffff 21.0px,#ffffff 24.0px,#ffffff 27.0px,#ffffff 30.0px,#fffffe 33.0px,#fffffe 36.0px,#fffffe 39.0px,#fffffe 42.0px,#fffffe 45.0px,#fffffe 48.0px,#fffffe 51.0px,#fffffc 54.0px,#fffffa 57.0px,#fffff7 60.0px,#fffff2 63.0px,#ffffec 66.0px,#ffffe5 69.0px,#ffffdd 72.0px,#ffffd4 75.0px,#ffffca 78.0px,#ffffc0 81.0px,#ffffb6 84.0px,#ffffab 87.0px,#ffff9f 90.0px,#ffff94 93.0px,#ffff83 96.0px,#ffff72 99.0px,#ffff62 102.0px,#ffff53 105.0px,#ffff45 108.0px,#ffff38 111.0px,#ffff2c 114.0px,#ffff21 117.0px,#ffff18 120.0px,#ffff11 123.0px,#ffff0c 126.0px,#ffff08 129.0px,#ffff06 132.0px,#ffff05 135.0px,#ffff04 138.0px,#ffff04 141.0px,#ffff04 144.0px,#ffff03 147.0px,#fffe00 150.0px,#fff500 153.0px,#ffe000 156.0px,#ffc200 159.0px,#ffa400 162.0px,#ff8500 165.0px,#ff5f00 168.0px,#ff3a00 171.0px,#ff2200 174.0px,#ff1000 177.0px,#ff0300 180.0px,#f90000 183.0px,#ee0000 186.0px,#de0000 189.0px,#bc0000 192.0px,#990000 195.0px)"></div><div style="top:162px;background:linear-gradient(90deg,#ffffff 0.0px,#ffffff 3.0px,#ffffff 6.0px,#ffffff 9.0px,#ffffff 12.0px,#ffffff 15.0px,#ffffff 18.0px,#ffffff 21.0px,#ffffff 24.0px,#ffffff 27.0px,#ffffff 30.0px,#ffffff 33.0px,#fffffe 36.0px,#fffffe 39.0px,#fffffe 42.0px,#fffffe 45.0px,#fffffe 48.0px,#fffffe 51.0px,#fffffd 54.0px,#fffffc 57.0px,#fffff9 60.0px,#fffff6 63.0px,#fffff1 66.0px,#ffffeb 69.0px,#ffffe4 72.0px,#ffffdc 75.0px,#ffffd3 78.0px,#ffffc9 81.0px,#ffffbf 84.0px,#ffffb5 87.0px,#ffffaa 90.0px,#ffff9f 93.0px,#ffff94 96.0px,#ffff84 99.0px,#ffff74 102.0px,#ffff64 105.0px,#ffff55 108.0px,#ffff48 111.0px,#ffff3b 114.0px,#ffff2f 117.0px,#ffff25 120.0px,#ffff1d 123.0px,#ffff16 126.0px,#ffff11 129.0px,#ffff0d 132.0px,#ffff0b 135.0px,#ffff0a 138.0px,#ffff09 141.0px,#ffff09 144.0px,#ffff08 147.0px,#ffff04 150.0px,#fff700 153.0px,#ffe200 156.0px,#ffc500 159.0px,#ffa700 162.0px,#ff8800 165.0px,#ff6200 168.0px,#ff3d00 171.0px,#ff2300 174.0px,#ff1100 177.0px,#ff0300 180.0px,#f90000 183.0px,#ef0000 186.0px,#df0000 189.0px,#c10000 192.0px,#9f0000 195.0px)"></div><div style="top:164px;background:linear-gradient(90deg,#ffffff 0.0px,#ffffff 3.0px,#ffffff 6.0px,#ffffff 9.0px,#ffffff 12.0px,#ffffff 15.0px,#ffffff 18.0px,#ffffff 21.0px,#ffffff 24.0px,#ffffff 27.0px,#ffffff 30.0px,#ffffff 33.0px,#fffffe 36.0px,#fffffe 39.0px,#fffffe 42.0px,#fffffe 45.0px,#fffffe 48.0px,#fffffe 51.0px,#fffffe 54.0px,#fffffd 57.0px,#fffffb 60.0px,#fffff9 63.0px,#fffff5 66.0px,#fffff0 69.0px,#ffffe9 72.0px,#ffffe2 75.0px,#ffffda 78.0px,#ffffd2 81.0px,#ffffc8 84.0px,#ffffbe 87.0px,#ffffb4 90.0px,#ffffaa 93.0px,#ffff9f 96.0px,#ffff94 99.0px,#ffff84 102.0px,#ffff75 105.0px,#ffff66 108.0px,#ffff57 111.0px,#ffff4a 114.0px,#ffff3e 117.0px,#ffff33 120.0px,#ffff29 123.0px,#ffff21 126.0px,#ffff1a 129.0px,#ffff15 132.0px,#ffff12 135.0px,#ffff10 138.0px,#ffff0f 141.0px,#ffff0e 144.0px,#ffff0d 147.0px,#ffff09 150.0px,#fffa00 153.0px,#ffe500 156.0px,#ffc700 159.0px,#ffa900 162.0px,#ff8c00 165.0px,#ff6500 168.0px,#ff4000 171.0px,#ff2400 174.0px,#ff1100 177.0px,#ff0400 180.0px,#f90000 183.0px,#f00000 186.0px,#e10000 189.0px,#c60000 192.0px,#a40000 195.0px)"></div><div style="top:166px;background:linear-gradient(90deg,#ffffff 0.0px,#ffffff 3.0px,#ffffff 6.0px,#ffffff 9.0px,#ffffff 12.0px,#ffffff 15.0px,#ffffff 18.0px,#ffffff 21.0px,#ffffff 24.0px,#ffffff 27.0px,#ffffff 30.0px,#ffffff 33.0px,#ffffff 36.0px,#fffffe 39.0px,#fffffe 42.0px,#fffffe 45.0px,#fffffe 48.0px,#fffffe 51.0px,#fffffe 54.0px,#fffffe 57.0px,#fffffd 60.0px,#fffffb 63.0px,#fffff8 66.0px,#fffff4 69.0px,#ffffee 72.0px,#ffffe8 75.0px,#ffffe1 78.0px,#ffffd9 81.0px,#ffffd0 84.0px,#ffffc7 87.0px,#ffffbd 90.0px,#ffffb3 93.0px,#ffffa9 96.0px,#ffff9f 99.0px,#ffff94 102.0px,#ffff85 105.0px,#ffff75 108.0px,#ffff67 111.0px,#ffff59 114.0px,#ffff4c 117.0px,#ffff40 120.0px,#ffff35 123.0px,#ffff2c 126.0px,#ffff24 129.0px,#ffff1e 132.0px,#ffff19 135.0px,#ffff16 138.0px,#ffff14 141.0px,#ffff13 144.0px,#ffff12 147.0px,#ffff0d 150.0px,#fffc00 153.0px,#ffe700 156.0px,#ffc900 159.0px,#ffab00 162.0px,#ff8e00 165.0px,#ff6900 168.0px,#ff4300 171.0px,#ff2600 174.0px,#ff1200 177.0px,#ff0400 180.0px,#fa0000 183.0px,#f10000 186.0px,#e30000 189.0px,#cb0000 192.0px,#a90000 195.0px)"></div><div style="top:168px;background:linear-gradient(90deg,#ffffff 0.0px,#ffffff 3.0px,#ffffff 6.0px,#ffffff 9.0px,#ffffff 12.0px,#ffffff 15.0px,#ffffff 18.0px,#ffffff 21.0px,#ffffff 24.0px,#ffffff 27.0px,#ffffff 30.0px,#ffffff 33.0px,#ffffff 36.0px,#ffffff 39.0px,#fffffe 42.0px,#fffffe 45.0px,#fffffe 48.0px,#fffffe 51.0px,#fffffe 54.0px,#fffffe 57.0px,#fffffe 60.0px,#fffffc 63.0px,#fffffa 66.0px,#fffff7 69.0px,#fffff3 72.0px,#ffffed 75.0px,#ffffe7 78.0px,#ffffdf 81.0px,#ffffd7 84.0px,#ffffcf 87.0px,#ffffc6 90.0px,#ffffbc 93.0px,#ffffb2 96.0px,#ffffa8 99.0px,#ffff9e 102.0px,#ffff93 105.0px,#ffff84 108.0px,#ffff75 111.0px,#ffff67 114.0px,#ffff5a 117.0px,#ffff4d 120.0px,#ffff42 123.0px,#ffff37 126.0px,#ffff2e 129.0px,#ffff27 132.0px,#ffff21 135.0px,#ffff1d 138.0px,#ffff1a 141.0px,#ffff19 144.0px,#ffff17 147.0px,#ffff12 150.0px,#ffff00 153.0px,#ffe900 156.0px,#ffcb00 159.0px,#ffad00 162.0px,#ff9100 165.0px,#ff6c00 168.0px,#ff4600 171.0px,#ff2700 174.0px,#ff1300 177.0px,#ff0500 180.0px,#fb0000 183.0px,#f20000 186.0px,#e50000 189.0px,#cf0000 192.0px,#ae0000 195.0px)"></div><div style="top:170px;background:linear-gradient(90deg,#ffffff 0.0px,#ffffff 3.0px,#ffffff 6.0px,#ffffff 9.0px,#ffffff 12.0px,#ffffff 15.0px,#ffffff 18.0px,#ffffff 21.0px,#ffffff 24.0px,#ffffff 27.0px,#ffffff 30.0px,#ffffff 33.0px,#ffffff 36.0px,#ffffff 39.0px,#ffffff 42.0px,#fffffe 45.0px,#fffffe 48.0px,#fffffe 51.0px,#fffffe 54.0px,#fffffe 57.0px,#fffffe 60.0px,#fffffd 63.0px,#fffffc 66.0px,#fffff9 69.0px,#fffff6 72.0px,#fffff1 75.0px,#ffffeb 78.0px,#ffffe5 81.0px,#ffffdd 84.0px,#ffffd5 87.0px,#ffffcd 90.0px,#ffffc3 93.0px,#ffffba 96.0px,#ffffb0 99.0px,#ffffa6 102.0px,#ffff9c 105.0px,#ffff91 108.0px,#ffff82 111.0px,#ffff74 114.0px,#ffff66 117.0px,#ffff59 120.0px,#ffff4d 123.0px,#ffff42 126.0px,#ffff38 129.0px,#ffff30 132.0px,#ffff29 135.0px,#ffff24 138.0px,#ffff20 141.0px,#ffff1e 144.0px,#ffff1c 147.0px,#ffff17 150.0px,#ffff04 153.0px,#ffeb00 156.0px,#ffcd00 159.0px,#ffb000 162.0px,#ff9300 165.0px,#ff6f00 168.0px,#ff4900 171.0px,#ff2900 174.0px,#ff1400 177.0px,#ff0600 180.0px,#fb0000 183.0px,#f30000 186.0px,#e60000 189.0px,#d30000 192.0px,#b30000 195.0px)"></div><div style="top:172px;background:linear-gradient(90deg,#ffffff 0.0px,#ffffff 3.0px,#ffffff 6.0px,#ffffff 9.0px,#ffffff 12.0px,#ffffff 15.0px,#ffffff 18.0px,#ffffff 21.0px,#ffffff 24.0px,#ffffff 27.0px,#ffffff 30.0px,#ffffff 33.0px,#ffffff 36.0px,#ffffff 39.0px,#ffffff 42.0px,#fffffe 45.0px,#fffffe 48.0px,#fffffe 51.0px,#fffffe 54.0px,#fffffe 57.0px,#fffffe 60.0px,#fffffe 63.0px,#fffffd 66.0px,#fffffb 69.0px,#fffff8 72.0px,#fffff4 75.0px,#ffffef 78.0px,#ffffe9 81.0px,#ffffe2 84.0px,#ffffdb 87.0px,#ffffd2 90.0px,#ffffc9 93.0px,#ffffc0 96.0px,#ffffb7 99.0px,#ffffad 102.0px,#ffffa3 105.0px,#ffff99 108.0px,#ffff8c 111.0px,#ffff7e 114.0px,#ffff70 117.0px,#ffff63 120.0px,#ffff56 123.0px,#ffff4b 126.0px,#ffff41 129.0px,#ffff38 132.0px,#ffff30 135.0px,#ffff2a 138.0px,#ffff25 141.0px,#ffff23 144.0px,#ffff20 147.0px,#ffff1b 150.0px,#ffff08 153.0px,#ffed00 156.0px,#ffcf00 159.0px,#ffb200 162.0px,#ff9500 165.0px,#ff7100 168.0px,#ff4b00 171.0px,#ff2a00 174.0px,#ff1500 177.0px,#ff0700 180.0px,#fc0000 183.0px,#f40000 186.0px,#e80000 189.0px,#d70000 192.0px,#b60000 195.0px)"></div><div style="top:174px;background:linear-gradient(90deg,#ffffff 0.0px,#ffffff 3.0px,#ffffff 6.0px,#ffffff 9.0px,#ffffff 12.0px,#ffffff 15.0px,#ffffff 18.0px,#ffffff 21.0px,#ffffff 24.0px,#ffffff 27.0px,#ffffff 30.0px,#ffffff 33.0px,#ffffff 36.0px,#ffffff 39.0px,#ffffff 42.0px,#ffffff 45.0px,#fffffe 48.0px,#fffffe 51.0px,#fffffe 54.0px,#fffffe 57.0px,#fffffe 60.0px,#fffffe 63.0px,#fffffe 66.0px,#fffffc 69.0px,#fffffa 72.0px,#fffff6 75.0px,#fffff2 78.0px,#ffffec 81.0px,#ffffe6 84.0px,#ffffde 87.0px,#ffffd6 90.0px,#ffffce 93.0px,#ffffc5 96.0px,#ffffbb 99.0px,#ffffb2 102.0px,#ffffa8 105.0px,#ffff9e 108.0px,#ffff94 111.0px,#ffff86 114.0px,#ffff78 117.0px,#ffff6a 120.0px,#ffff5e 123.0px,#ffff52 126.0px,#ffff47 129.0px,#ffff3d 132.0px,#ffff35 135.0px,#ffff2f 138.0px,#ffff2a 141.0px,#ffff26 144.0px,#ffff24 147.0px,#ffff1e 150.0px,#ffff0b 153.0px,#ffef00 156.0px,#ffd000 159.0px,#ffb300 162.0px,#ff9600 165.0px,#ff7300 168.0px,#ff4d00 171.0px,#ff2b00 174.0px,#ff1600 177.0px,#ff0700 180.0px,#fd0000 183.0px,#f50000 186.0px,#e90000 189.0px,#d80000 192.0px,#b90000 195.0px)"></div></div>
<svg width="617" height="423" viewBox="0 0 617 423">
<defs>
<filter id="blur1" x="-20%" y="-20%" width="140%" height="140%"><feGaussianBlur stdDeviation="0.6"/></filter>
<filter id="blur2" x="-50%" y="-50%" width="200%" height="200%"><feGaussianBlur stdDeviation="1.3"/></filter>
<filter id="noise" x="0" y="0" width="100%" height="100%"><feTurbulence type="fractalNoise" baseFrequency="0.7" numOctaves="2" seed="3"/><feColorMatrix type="saturate" values="0"/></filter>
</defs>
<text x="-0.3" y="12.6" font-size="17.5" fill="#111" stroke="#111" stroke-width="0.35">(a)</text>
<rect x="60.5" y="34.5" width="195.3" height="131.0" fill="#737373"/>
<g filter="url(#blur1)" fill="#d4d4d4"><rect x="60.5" y="90.4" width="195.3" height="11.8" fill="#d2d2d2"/><path d="M127.5,34.5 H150 V80 Q150,84 146,84 H131.5 Q127.5,84 127.5,80 Z"/><path d="M159.8,34.5 H170.8 V77 Q170.8,82.5 165.3,82.5 Q159.8,82.5 159.8,77 Z"/><path d="M182.2,34.5 H193.5 V77.5 Q193.5,83 187.85,83 Q182.2,83 182.2,77.5 Z"/><path d="M129,165.5 H150.4 V117 Q150.4,113 146.4,113 H133 Q129,113 129,117 Z"/><path d="M160.5,165.5 H171.7 V116.8 Q171.7,111.2 166.1,111.2 Q160.5,111.2 160.5,116.8 Z"/><path d="M183,165.5 H194.2 V117.9 Q194.2,112.3 188.6,112.3 Q183,112.3 183,117.9 Z"/></g>
<g filter="url(#blur2)" fill="#e6e6e6" opacity="0.6"><rect x="130.5" y="35" width="17" height="46"/><rect x="161.8" y="35" width="7" height="45"/><rect x="184.3" y="35" width="7" height="45"/><rect x="131.5" y="116" width="16.5" height="49"/><rect x="162.6" y="114" width="7" height="51"/><rect x="185" y="115" width="7" height="50"/><rect x="62" y="92.3" width="192" height="8" fill="#f0f0f0" opacity="1"/></g>
<rect x="60.5" y="34.5" width="195.3" height="131.0" fill="#808080" filter="url(#noise)" opacity="0.26"/>
<rect x="87" y="154" width="30" height="6" fill="#fff"/>
<rect x="61.5" y="35.5" width="14.5" height="16.5" fill="#8a8a8a" stroke="#111" stroke-width="2"/>
<path d="M62.0,36.0 L75.5,51.5 M75.5,36.0 L62.0,51.5" stroke="#111" stroke-width="1.6"/>
<rect x="240.3" y="35.5" width="14.5" height="16.3" fill="#8a8a8a" stroke="#111" stroke-width="2"/>
<path d="M240.8,36.0 L254.3,51.3 M254.3,36.0 L240.8,51.3" stroke="#111" stroke-width="1.6"/>
<rect x="61.5" y="148.2" width="14.5" height="16.3" fill="#8a8a8a" stroke="#111" stroke-width="2"/>
<path d="M62.0,148.7 L75.5,164.0 M75.5,148.7 L62.0,164.0" stroke="#111" stroke-width="1.6"/>
<rect x="240.3" y="148.2" width="14.5" height="16.3" fill="#8a8a8a" stroke="#111" stroke-width="2"/>
<path d="M240.8,148.7 L254.3,164.0 M254.3,148.7 L240.8,164.0" stroke="#111" stroke-width="1.6"/>
<text x="64.4" y="70.1" font-size="17" fill="#fff">S</text>
<text x="64" y="146.3" font-size="17" fill="#fff">S</text>
<text x="241" y="67.7" font-size="17" fill="#fff">D</text>
<text x="241" y="145.5" font-size="17" fill="#fff">D</text>
<path d="M49,44 H60.5" stroke="#333" stroke-width="1.2"/>
<path d="M49,39 V49 M45.8,40.5 V47.5 M42.6,42 V46" stroke="#333" stroke-width="1.3"/>
<path d="M49,156.5 H60.5" stroke="#333" stroke-width="1.2"/>
<path d="M49,151.5 V161.5 M45.8,153.0 V160.0 M42.6,154.5 V158.5" stroke="#333" stroke-width="1.3"/>
<path d="M255.8,44.2 H272.8 V156.3 H255.8" fill="none" stroke="#444" stroke-width="1.2"/>
<path d="M272.8,97.3 H288.4" stroke="#444" stroke-width="1.2"/>
<path d="M288.4,85.9 L308.6,97.3 L288.4,108.6 Z" fill="#fff" stroke="#333" stroke-width="1.2"/>
<path d="M308.6,97.3 H315.8" stroke="#333" stroke-width="1.2"/>
<circle cx="315.8" cy="97.3" r="2.6" fill="#000"/>
<path d="M298.4,103 V115 M293,115 H303.6 M294.5,118.2 H302.1 M296,121.4 H300.6" stroke="#333" stroke-width="1.2"/>
<text x="285.6" y="82" font-size="12.5" fill="#111" stroke="#111" stroke-width="0.35">ULCA</text>
<text x="321.6" y="103.4" font-size="14.6" fill="#111" stroke="#111" stroke-width="0.35">I</text>
<text x="325.6" y="106.9" font-size="9" fill="#444">p</text>
<text x="32.6" y="99.9" font-size="14.6" fill="#111" stroke="#111" stroke-width="0.35">V</text>
<text x="41.8" y="103.5" font-size="8.2" fill="#444">T</text>
<path d="M48,95.8 H63.5" stroke="#555" stroke-width="1.1"/>
<circle cx="63.5" cy="95.8" r="2.7" fill="#000"/>
<text x="62.8" y="26.9" font-size="14.6" fill="#111" stroke="#111" stroke-width="0.35">V</text>
<text x="72.8" y="30.2" font-size="8.2" fill="#444">ENT</text>
<text x="89.6" y="27.2" font-size="14.5" fill="#111" stroke="#111" stroke-width="0.4">+</text>
<text x="98.4" y="26.9" font-size="14.6" fill="#111" stroke="#111" stroke-width="0.35">V</text>
<text x="107.5" y="30.2" font-size="8.2" fill="#444">AC</text>
<path d="M122.3,24.3 H138.7 V37.4" fill="none" stroke="#222" stroke-width="1.2"/>
<circle cx="138.7" cy="37.4" r="2.6" fill="#000"/>
<text x="161.4" y="19.8" font-size="14.6" fill="#111" stroke="#111" stroke-width="0.35">V</text>
<text x="170.8" y="22.2" font-size="8.2" fill="#444">P</text>
<path d="M164.9,23.7 V37" stroke="#222" stroke-width="1.2"/>
<circle cx="164.9" cy="37" r="2.6" fill="#000"/>
<text x="181.1" y="19.8" font-size="14.6" fill="#111" stroke="#111" stroke-width="0.35">V</text>
<text x="190.2" y="22.2" font-size="8.2" fill="#444">EXIT</text>
<path d="M187.6,23.7 V36" stroke="#222" stroke-width="1.2"/>
<circle cx="187.6" cy="36" r="2.6" fill="#000"/>
<path d="M139.2,162.3 V171.5" stroke="#222" stroke-width="1.2"/>
<circle cx="139.2" cy="162.3" r="2.6" fill="#000"/>
<text x="136.6" y="186.4" font-size="14.6" fill="#111" stroke="#111" stroke-width="0.35">V</text>
<text x="145.9" y="188.7" font-size="8.2" fill="#444">F1</text>
<path d="M166.6,160.7 V171.5" stroke="#222" stroke-width="1.2"/>
<circle cx="166.6" cy="160.7" r="2.6" fill="#000"/>
<text x="162.3" y="186.4" font-size="14.6" fill="#111" stroke="#111" stroke-width="0.35">V</text>
<text x="171.60000000000002" y="188.7" font-size="8.2" fill="#444">F2</text>
<path d="M189,162 V171.5" stroke="#222" stroke-width="1.2"/>
<circle cx="189" cy="162" r="2.6" fill="#000"/>
<text x="184.8" y="186.4" font-size="14.6" fill="#111" stroke="#111" stroke-width="0.35">V</text>
<text x="194.10000000000002" y="188.7" font-size="8.2" fill="#444">F3</text>
<text x="116.8" y="68.2" font-size="16" fill="none" stroke="#9ee8ea" stroke-width="1.4" opacity="0.55">G</text>
<text x="127.5" y="71.8" font-size="10.5" font-weight="bold" letter-spacing="0" fill="none" stroke="#9ee8ea" stroke-width="1.4" opacity="0.45">ENT</text>
<text x="116.8" y="68.2" font-size="16" fill="#f01010">G</text>
<text x="127.5" y="71.8" font-size="10.5" font-weight="bold" letter-spacing="0" fill="#f01010">ENT</text>
<text x="158.8" y="68.2" font-size="16" fill="none" stroke="#9ee8ea" stroke-width="1.4" opacity="0.55">G</text>
<text x="170" y="71.8" font-size="10.5" font-weight="bold" letter-spacing="0" fill="none" stroke="#9ee8ea" stroke-width="1.4" opacity="0.45">P</text>
<text x="158.8" y="68.2" font-size="16" fill="#f01010">G</text>
<text x="170" y="71.8" font-size="10.5" font-weight="bold" letter-spacing="0" fill="#f01010">P</text>
<text x="182" y="67.8" font-size="16" fill="none" stroke="#9ee8ea" stroke-width="1.4" opacity="0.55">G</text>
<text x="193.6" y="72.3" font-size="10.5" font-weight="bold" letter-spacing="-0.6" fill="none" stroke="#9ee8ea" stroke-width="1.4" opacity="0.45">EXIT</text>
<text x="182" y="67.8" font-size="16" fill="#f01010">G</text>
<text x="193.6" y="72.3" font-size="10.5" font-weight="bold" letter-spacing="-0.6" fill="#f01010">EXIT</text>
<text x="73.4" y="97.6" font-size="16" fill="none" stroke="#9ee8ea" stroke-width="1.4" opacity="0.55">G</text>
<text x="84.6" y="101.6" font-size="10.5" font-weight="bold" letter-spacing="0" fill="none" stroke="#9ee8ea" stroke-width="1.4" opacity="0.45">T</text>
<text x="73.4" y="97.6" font-size="16" fill="#f01010">G</text>
<text x="84.6" y="101.6" font-size="10.5" font-weight="bold" letter-spacing="0" fill="#f01010">T</text>
<text x="128.5" y="136.3" font-size="16" fill="none" stroke="#9ee8ea" stroke-width="1.4" opacity="0.55">G</text>
<text x="140.2" y="140.3" font-size="10.5" font-weight="bold" letter-spacing="0" fill="none" stroke="#9ee8ea" stroke-width="1.4" opacity="0.45">F1</text>
<text x="128.5" y="136.3" font-size="16" fill="#f01010">G</text>
<text x="140.2" y="140.3" font-size="10.5" font-weight="bold" letter-spacing="0" fill="#f01010">F1</text>
<text x="157.8" y="136.3" font-size="16" fill="none" stroke="#9ee8ea" stroke-width="1.4" opacity="0.55">G</text>
<text x="169.2" y="140.3" font-size="10.5" font-weight="bold" letter-spacing="0" fill="none" stroke="#9ee8ea" stroke-width="1.4" opacity="0.45">F2</text>
<text x="157.8" y="136.3" font-size="16" fill="#f01010">G</text>
<text x="169.2" y="140.3" font-size="10.5" font-weight="bold" letter-spacing="0" fill="#f01010">F2</text>
<text x="182.5" y="136.3" font-size="16" fill="none" stroke="#9ee8ea" stroke-width="1.4" opacity="0.55">G</text>
<text x="194" y="140.3" font-size="10.5" font-weight="bold" letter-spacing="0" fill="none" stroke="#9ee8ea" stroke-width="1.4" opacity="0.45">F3</text>
<text x="182.5" y="136.3" font-size="16" fill="#f01010">G</text>
<text x="194" y="140.3" font-size="10.5" font-weight="bold" letter-spacing="0" fill="#f01010">F3</text>
<ellipse cx="164.4" cy="96.1" rx="9.7" ry="7.6" fill="none" stroke="#0c1cc0" stroke-width="2.4" stroke-dasharray="6.6,2.5" stroke-dashoffset="3.3"/>
<text x="-0.3" y="216.4" font-size="17.5" fill="#111" stroke="#111" stroke-width="0.35">(b)</text>

<path d="M62,288.8 H257" stroke="#222" stroke-width="1.3" stroke-dasharray="3,3.3"/>
<path d="M63.0,384.6 L64.1,384.6 L65.6,384.6 L67.4,384.6 L69.4,384.5 L71.5,384.5 L73.7,384.5 L75.9,384.4 L78.0,384.4 L80.1,384.4 L82.4,384.4 L84.8,384.3 L87.2,384.3 L89.6,384.3 L91.9,384.2 L94.0,384.1 L96.0,383.9 L97.8,383.7 L99.4,383.4 L101.0,383.1 L102.4,382.7 L103.8,382.3 L105.1,381.8 L106.4,381.3 L107.7,380.8 L109.0,380.2 L110.2,379.6 L111.4,378.9 L112.5,378.2 L113.6,377.4 L114.7,376.6 L115.7,375.7 L116.8,374.8 L117.8,373.9 L118.8,372.9 L119.8,371.9 L120.7,370.8 L121.7,369.7 L122.6,368.5 L123.5,367.2 L124.5,365.7 L125.5,364.1 L126.4,362.3 L127.4,360.5 L128.4,358.5 L129.4,356.5 L130.3,354.4 L131.3,352.3 L132.3,350.1 L133.3,347.8 L134.2,345.5 L135.2,343.1 L136.2,340.6 L137.2,338.1 L138.2,335.6 L139.1,333.1 L140.1,330.6 L141.1,328.1 L142.0,325.6 L143.0,323.0 L144.0,320.5 L145.0,318.0 L145.9,315.6 L146.9,313.3 L147.9,311.2 L148.9,309.2 L149.9,307.4 L150.9,305.6 L151.9,303.9 L152.9,302.4 L153.8,300.9 L154.8,299.5 L155.7,298.2 L156.6,297.0 L157.4,295.9 L158.3,294.9 L159.1,294.0 L159.9,293.2 L160.7,292.5 L161.4,291.8 L162.2,291.2 L163.0,290.7 L163.7,290.3 L164.5,290.0 L165.3,289.8 L166.0,289.6 L166.7,289.5 L167.4,289.3 L168.0,289.2 L168.6,289.1 L169.2,289.0 L169.8,289.0 L170.4,289.0 L170.9,289.0 L171.3,289.0 L171.7,289.0 L172.0,289.0 L202.0,289.0 L202.4,289.0 L202.9,289.0 L203.4,289.1 L204.1,289.1 L204.8,289.2 L205.4,289.1 L206.1,289.1 L206.6,289.0 L207.1,288.9 L207.5,288.7 L208.0,288.6 L208.4,288.4 L208.7,288.2 L209.1,287.8 L209.5,287.4 L209.8,286.9 L210.1,286.3 L210.4,285.6 L210.7,284.8 L210.9,284.0 L211.2,283.1 L211.4,282.0 L211.6,280.8 L211.9,279.5 L212.2,278.0 L212.4,276.4 L212.7,274.6 L212.9,272.6 L213.2,270.7 L213.5,268.6 L213.7,266.6 L214.0,264.6 L214.3,262.6 L214.5,260.4 L214.8,258.3 L215.1,256.1 L215.4,253.9 L215.7,251.8 L215.9,249.6 L216.2,247.6 L216.5,245.6 L216.7,243.7 L216.9,241.7 L217.2,239.8 L217.4,238.0 L217.7,236.2 L218.0,234.4 L218.3,232.7 L218.6,231.1 L219.0,229.5 L219.4,228.1 L219.8,226.6 L220.3,225.2 L220.7,223.8 L221.1,222.4 L221.5,221.0 L221.9,219.5 L222.4,217.8 L222.8,216.1 L223.3,214.4 L223.7,212.8 L224.1,211.4 L224.5,210.2 L224.7,209.3" fill="none" stroke="#000" stroke-width="1.3"/>
<rect x="61.5" y="209" width="195.7" height="175.2" fill="none" stroke="#555" stroke-width="1.1"/>
<path d="M97.3,384.2 V388.2 M97.3,209 V205 M150.8,384.2 V388.2 M150.8,209 V205 M204.3,384.2 V388.2 M204.3,209 V205 M70.5,384.2 V386.7 M70.5,209 V206.5 M124,384.2 V386.7 M124,209 V206.5 M177.5,384.2 V386.7 M177.5,209 V206.5 M230.8,384.2 V386.7 M230.8,209 V206.5 M61.5,234 H57.5 M61.5,283.8 H57.5 M61.5,333.6 H57.5 M61.5,258.9 H59.0 M61.5,308.7 H59.0 M61.5,358.5 H59.0 M257.2,288.6 H261.2 M257.2,241.2 H259.7 M257.2,336.3 H259.7 M257.2,384.2 H261.2" stroke="#555" stroke-width="1.1"/>
<text x="56.2" y="238.10000000000002" font-size="14" font-weight="bold" fill="#111" text-anchor="end" letter-spacing="-1">-0.5</text>
<text x="56.2" y="287.90000000000003" font-size="14" font-weight="bold" fill="#111" text-anchor="end" letter-spacing="-1">-0.6</text>
<text x="56.2" y="337.7" font-size="14" font-weight="bold" fill="#111" text-anchor="end" letter-spacing="-1">-0.7</text>
<text x="56.2" y="388.2" font-size="14" font-weight="bold" fill="#111" text-anchor="end" letter-spacing="-1">-0.8</text>
<text x="96.2" y="400.2" font-size="14" font-weight="bold" fill="#111" text-anchor="middle" letter-spacing="-1">-1.2</text>
<text x="149.70000000000002" y="400.2" font-size="14" font-weight="bold" fill="#111" text-anchor="middle" letter-spacing="-1">-0.9</text>
<text x="203.20000000000002" y="400.2" font-size="14" font-weight="bold" fill="#111" text-anchor="middle" letter-spacing="-1">-0.6</text>
<text x="256.09999999999997" y="400.2" font-size="14" font-weight="bold" fill="#111" text-anchor="middle" letter-spacing="-1">-0.3</text>
<text x="261.4" y="388.4" font-size="14" font-weight="bold" fill="#111">0</text>
<text x="261.6" y="292.7" font-size="14" font-weight="bold" fill="#111">1</text>
<text x="134.4" y="417.9" font-size="16.3" font-weight="bold" font-style="italic" fill="#111">V</text>
<text x="143.6" y="422.6" font-size="10" font-weight="bold" fill="#111" letter-spacing="-0.9">EXIT</text>
<text x="166.8" y="417.9" font-size="16.3" font-weight="bold" fill="#111">/</text><text x="173.6" y="417.9" font-size="16.3" font-weight="bold" fill="#111">V</text>
<g transform="translate(27.3,324.4) rotate(-90)" font-weight="bold" fill="#111"><text x="-0.8" y="0" font-size="16.5" font-style="italic">V</text><text x="9.6" y="4.6" font-size="9.5">ENT</text><text x="30" y="0" font-size="16.5">/</text><text x="38.6" y="0" font-size="16.5">V</text></g>
<g transform="translate(282.6,312) rotate(-90)" font-weight="bold" fill="#111"><text x="-0.2" y="0" font-size="13.5">-</text><text x="4.6" y="0" font-size="13.5" font-style="italic">I</text><text x="9.2" y="5.6" font-size="8">p</text><text x="17.4" y="0" font-size="13.5">/</text><text x="27.8" y="0" font-size="13.5" letter-spacing="-0.6">ef</text><text x="39.6" y="5.6" font-size="8">p</text></g>
<defs><linearGradient id="cbar" x1="0" y1="1" x2="0" y2="0"><stop offset="0" stop-color="#ffffff"/><stop offset="0.15" stop-color="#ffffa0"/><stop offset="0.3" stop-color="#ffff00"/><stop offset="0.5" stop-color="#ff8c00"/><stop offset="0.67" stop-color="#ff0000"/><stop offset="0.85" stop-color="#a00000"/><stop offset="1" stop-color="#100000"/></linearGradient></defs>
<rect x="71" y="232" width="6.6" height="51.6" fill="url(#cbar)" stroke="#333" stroke-width="0.8"/>
<text x="79.8" y="234.6" font-size="9.3" font-weight="bold" fill="#111">3</text>
<text x="79.8" y="252.6" font-size="9.3" font-weight="bold" fill="#111">2</text>
<text x="79.8" y="268.9" font-size="9.3" font-weight="bold" fill="#111">1</text>
<text x="79.8" y="286.6" font-size="9.3" font-weight="bold" fill="#111">0</text>
<g font-weight="bold" fill="#111"><text x="66.6" y="220.5" font-size="10.5">-</text><text x="70" y="220.5" font-size="10.5" font-style="italic">I</text><text x="73.4" y="224.3" font-size="7">p</text><text x="79.6" y="220.5" font-size="10.5" font-style="italic">/</text><text x="84.4" y="220.6" font-size="10.5" letter-spacing="-0.4">ef</text><text x="93.4" y="224.3" font-size="7">p</text></g>
<path d="M145.2,244.3 H131" stroke="#222" stroke-width="1.1"/><path d="M127,244.3 L132.5,242 L132.5,246.6 Z" fill="#222"/>
<path d="M120.8,374.9 H134" stroke="#222" stroke-width="1.1"/><path d="M138.2,374.9 L132.6,372.6 L132.6,377.2 Z" fill="#222"/>
<text x="339.9" y="12.3" font-size="17" fill="#111" stroke="#111" stroke-width="0.25">(<tspan font-weight="bold" stroke-width="0">c</tspan>)</text>
<path d="M398.80,168.60 L400.63,167.00 L402.47,165.39 L404.30,163.78 L406.13,162.18 L407.97,160.58 L409.80,159.00 L411.77,157.36 L413.73,155.80 L415.70,154.24 L417.67,152.63 L419.63,150.90 L421.60,149.00 L422.13,148.38 L422.67,147.67 L423.20,146.92 L423.73,146.21 L424.27,145.62 L424.80,145.20 L425.23,144.99 L425.67,144.84 L426.10,144.71 L426.53,144.59 L426.97,144.43 L427.40,144.20 L427.82,143.77 L428.23,143.07 L428.65,142.25 L429.07,141.44 L429.48,140.78 L429.90,140.40 L430.40,140.21 L430.90,140.09 L431.40,139.99 L431.90,139.90 L432.40,139.78 L432.90,139.60 L433.52,139.02 L434.13,137.99 L434.75,136.70 L435.37,135.37 L435.98,134.20 L436.60,133.40 L436.97,133.07 L437.33,132.75 L437.70,132.46 L438.07,132.22 L438.43,132.06 L438.80,132.00 L439.38,132.00 L439.97,132.00 L440.55,132.00 L441.13,132.00 L441.72,132.00 L442.30,132.00 L442.80,131.87 L443.30,131.51 L443.80,130.98 L444.30,130.33 L444.80,129.62 L445.30,128.90 L445.75,128.12 L446.20,127.14 L446.65,126.03 L447.10,124.91 L447.55,123.86 L448.00,123.00 L448.40,122.32 L448.80,121.64 L449.20,121.00 L449.60,120.45 L450.00,120.04 L450.40,119.80 L450.75,119.69 L451.10,119.59 L451.45,119.51 L451.80,119.45 L452.15,119.41 L452.50,119.40 L453.35,119.40 L454.20,119.40 L455.05,119.40 L455.90,119.40 L456.75,119.40 L457.60,119.40 L458.20,118.89 L458.80,117.59 L459.40,115.85 L460.00,114.00 L460.60,112.41 L461.20,111.40 L461.60,111.04 L462.00,110.73 L462.40,110.47 L462.80,110.23 L463.20,110.02 L463.60,109.80 L464.27,109.49 L464.93,109.25 L465.60,109.03 L466.27,108.78 L466.93,108.46 L467.60,108.00 L468.07,107.33 L468.53,106.17 L469.00,104.73 L469.47,103.18 L469.93,101.71 L470.40,100.50 L470.77,99.69 L471.13,98.89 L471.50,98.13 L471.87,97.44 L472.23,96.85 L472.60,96.40 L473.08,95.92 L473.57,95.48 L474.05,95.09 L474.53,94.77 L475.02,94.54 L475.50,94.40 L475.83,94.35 L476.17,94.30 L476.50,94.27 L476.83,94.24 L477.17,94.21 L477.50,94.20 L479.78,94.15 L482.07,94.12 L484.35,94.11 L486.63,94.10 L488.92,94.06 L491.20,94.00 L491.60,93.57 L492.00,92.45 L492.40,90.83 L492.80,88.91 L493.20,86.90 L493.60,85.00 L493.90,83.50 L494.20,81.76 L494.50,79.93 L494.80,78.15 L495.10,76.56 L495.40,75.30 L495.73,74.16 L496.07,73.10 L496.40,72.14 L496.73,71.31 L497.07,70.65 L497.40,70.20 L497.77,69.84 L498.13,69.53 L498.50,69.27 L498.87,69.05 L499.23,68.90 L499.60,68.80 L499.92,68.75 L500.23,68.70 L500.55,68.66 L500.87,68.63 L501.18,68.61 L501.50,68.60 L505.22,68.60 L508.93,68.60 L512.65,68.60 L516.37,68.60 L520.08,68.60 L523.80,68.60 L524.30,68.31 L524.80,67.53 L525.30,66.38 L525.80,64.99 L526.30,63.49 L526.80,62.00 L527.25,60.57 L527.70,58.90 L528.15,57.04 L528.60,55.07 L529.05,53.04 L529.50,51.00 L530.00,48.63 L530.50,46.07 L531.00,43.42 L531.50,40.79 L532.00,38.29 L532.50,36.00 L532.97,34.00 L533.43,32.02 L533.90,30.12 L534.37,28.36 L534.83,26.80 L535.30,25.50 L535.75,24.41 L536.20,23.39 L536.65,22.46 L537.10,21.65 L537.55,20.99 L538.00,20.50 L538.50,20.08 L539.00,19.70 L539.50,19.37 L540.00,19.11 L540.50,18.91 L541.00,18.80 L541.42,18.75 L541.83,18.70 L542.25,18.66 L542.67,18.63 L543.08,18.61 L543.50,18.60 L553.42,18.60 L563.33,18.60 L573.25,18.60 L583.17,18.60 L593.08,18.60 L603.00,18.60 L603.50,18.53 L604.00,18.34 L604.50,18.07 L605.00,17.77 L605.50,17.47 L606.00,17.20" fill="none" stroke="#ff5252" stroke-width="1.1"/>
<g id="chip"><defs><radialGradient id="padg" cx="0.4" cy="0.35" r="0.7"><stop offset="0" stop-color="#fff0b0"/><stop offset="0.45" stop-color="#e0b050"/><stop offset="1" stop-color="#8a6420"/></radialGradient><radialGradient id="cer" cx="0.5" cy="0.45" r="0.6"><stop offset="0" stop-color="#f6f6fc"/><stop offset="0.75" stop-color="#ececf6"/><stop offset="1" stop-color="#d2d2e6"/></radialGradient><linearGradient id="gold" x1="0" y1="0" x2="0" y2="1"><stop offset="0" stop-color="#d8c088"/><stop offset="0.7" stop-color="#c8a868"/><stop offset="1" stop-color="#a88848"/></linearGradient></defs>
<ellipse cx="552.9" cy="126.8" rx="43.4" ry="31.6" fill="url(#gold)"/>
<ellipse cx="552.8" cy="126" rx="42.2" ry="30.2" fill="none" stroke="#e8dab0" stroke-width="0.9"/>
<ellipse cx="552.7" cy="125" rx="41.2" ry="28.6" fill="none" stroke="#b89858" stroke-width="0.7"/>
<ellipse cx="552.5" cy="125.6" rx="41" ry="25.6" fill="#c6c6da"/>
<ellipse cx="552.3" cy="121.4" rx="40.4" ry="25" fill="url(#cer)"/>
<ellipse cx="537" cy="101.6" rx="3.9" ry="2.9" fill="#9a8050" opacity="0.75"/>
<ellipse cx="537" cy="101" rx="3.4" ry="2.5" fill="url(#padg)"/>
<ellipse cx="551" cy="101.6" rx="3.9" ry="2.9" fill="#9a8050" opacity="0.75"/>
<ellipse cx="551" cy="101" rx="3.4" ry="2.5" fill="url(#padg)"/>
<ellipse cx="564.8" cy="101.6" rx="3.9" ry="2.9" fill="#9a8050" opacity="0.75"/>
<ellipse cx="564.8" cy="101" rx="3.4" ry="2.5" fill="url(#padg)"/>
<ellipse cx="580" cy="110.6" rx="3.9" ry="2.9" fill="#9a8050" opacity="0.75"/>
<ellipse cx="580" cy="110" rx="3.4" ry="2.5" fill="url(#padg)"/>
<ellipse cx="581.5" cy="120.6" rx="3.9" ry="2.9" fill="#9a8050" opacity="0.75"/>
<ellipse cx="581.5" cy="120" rx="3.4" ry="2.5" fill="url(#padg)"/>
<ellipse cx="582.6" cy="131.4" rx="3.9" ry="2.9" fill="#9a8050" opacity="0.75"/>
<ellipse cx="582.6" cy="130.8" rx="3.4" ry="2.5" fill="url(#padg)"/>
<ellipse cx="538" cy="142.9" rx="3.9" ry="2.9" fill="#9a8050" opacity="0.75"/>
<ellipse cx="538" cy="142.3" rx="3.4" ry="2.5" fill="url(#padg)"/>
<ellipse cx="552.7" cy="142.9" rx="3.9" ry="2.9" fill="#9a8050" opacity="0.75"/>
<ellipse cx="552.7" cy="142.3" rx="3.4" ry="2.5" fill="url(#padg)"/>
<ellipse cx="568.5" cy="141.4" rx="3.9" ry="2.9" fill="#9a8050" opacity="0.75"/>
<ellipse cx="568.5" cy="140.8" rx="3.4" ry="2.5" fill="url(#padg)"/>
<ellipse cx="522.7" cy="112.89999999999999" rx="3.9" ry="2.9" fill="#9a8050" opacity="0.75"/>
<ellipse cx="522.7" cy="112.3" rx="3.4" ry="2.5" fill="url(#padg)"/>
<ellipse cx="522.7" cy="122.89999999999999" rx="3.9" ry="2.9" fill="#9a8050" opacity="0.75"/>
<ellipse cx="522.7" cy="122.3" rx="3.4" ry="2.5" fill="url(#padg)"/>
<ellipse cx="522.7" cy="132.1" rx="3.9" ry="2.9" fill="#9a8050" opacity="0.75"/>
<ellipse cx="522.7" cy="131.5" rx="3.4" ry="2.5" fill="url(#padg)"/>
<circle cx="582.3" cy="104.2" r="1.7" fill="url(#padg)"/>
<path d="M528.5,133.5 L578.3,132 L578.8,136.6 L529,138.3 Z" fill="#c4c6dc"/>
<path d="M528.2,135.6 L578.6,134 L578.8,135.4 L528.4,137 Z" fill="#2e4a48" opacity="0.8"/>
<path d="M529.3,103 L575.4,103.8 L578,134.2 L529,135.8 Z" fill="#1e2646" stroke="#2a5a50" stroke-width="1.1"/>
<path d="M533.0,105 L533.0,133 M537.4,105 L537.6,133 M541.8,105 L542.2,133 M546.2,105 L546.8,133 M550.6,105 L551.4,133 M555.0,105 L556.0,133 M559.4,105 L560.6,133 M563.8,105 L565.2,133 M568.2,105 L569.8,133 M572.6,105 L574.4,133 " stroke="#a88850" stroke-width="0.8" opacity="0.7"/>
<path d="M529.5,107 L575.0,107.2 M529.5,111 L575.5,111.2 M529.5,115 L575.9,115.2 M529.5,119 L576.4,119.2 M529.5,123 L576.8,123.2 M529.5,127 L577.2,127.2 M529.5,131 L577.7,131.2 " stroke="#3a4a70" stroke-width="0.5" opacity="0.8"/>
<ellipse cx="538.5" cy="135.6" rx="2.6" ry="1.5" fill="url(#padg)"/><ellipse cx="553.5" cy="135.2" rx="2.6" ry="1.5" fill="url(#padg)"/><ellipse cx="567.5" cy="134.8" rx="2.6" ry="1.5" fill="url(#padg)"/><circle cx="531.5" cy="118" r="1.2" fill="#c8a050"/><circle cx="575.5" cy="116" r="1.2" fill="#c8a050"/></g>
<path d="M398.6,4 H606 V169.3 H398.6 Z" fill="none" stroke="#5a5a5a" stroke-width="1.3"/>
<path d="M424.5,169.3 V166.3 M450.5,169.3 V164.3 M476.4,169.3 V166.3 M502.3,169.3 V164.3 M528.2,169.3 V166.3 M554.1,169.3 V164.3 M580.1,169.3 V166.3 M398.6,18.6 H404.6 M398.6,56.1 H401.6 M398.6,93.6 H404.6 M398.6,131.1 H401.6 " stroke="#5a5a5a" stroke-width="1.2"/>
<text x="392.2" y="22.8" font-size="14" font-weight="bold" fill="#111" text-anchor="end" letter-spacing="0.3">1.0</text>
<text x="392.2" y="97.8" font-size="14" font-weight="bold" fill="#111" text-anchor="end" letter-spacing="0.3">0.5</text>
<text x="392.2" y="174.3" font-size="14" font-weight="bold" fill="#111" text-anchor="end" letter-spacing="0.3">0.0</text>
<text x="398.6" y="182.2" font-size="14" font-weight="bold" fill="#111" text-anchor="middle">0</text>
<text x="450.5" y="182.2" font-size="14" font-weight="bold" fill="#111" text-anchor="middle">3</text>
<text x="502.3" y="182.2" font-size="14" font-weight="bold" fill="#111" text-anchor="middle">6</text>
<text x="554.1" y="182.2" font-size="14" font-weight="bold" fill="#111" text-anchor="middle">9</text>
<text x="606.0" y="182.2" font-size="14" font-weight="bold" fill="#111" text-anchor="middle">12</text>
<text x="485" y="204.8" font-size="16.5" font-weight="bold" font-style="italic" fill="#111">B</text><text x="501.5" y="204.8" font-size="16.5" font-weight="bold" fill="#111">/</text><text x="510.9" y="204.8" font-size="16.5" font-weight="bold" fill="#111" textLength="12.2" lengthAdjust="spacingAndGlyphs">T</text>
<g transform="translate(358.8,124) rotate(-90)" fill="#111" font-weight="bold"><text x="-0.6" y="0" font-size="16.3" font-style="italic">R</text><text x="11.8" y="4.6" font-size="10" font-style="italic" letter-spacing="-0.6">xy</text><text x="25.2" y="0" font-size="16.3">/</text><text x="36.2" y="0" font-size="16.5">MΩ</text></g>
<text x="339.9" y="215.6" font-size="17" fill="#111" stroke="#111" stroke-width="0.25">(d)</text>
<path d="M400.4,382.5 L400.7,379.9 L401.0,376.3 L401.5,372.1 L402.0,367.4 L402.5,362.5 L403.0,357.7 L403.5,353.3 L404.0,349.4 L404.5,346.0 L405.0,342.7 L405.5,339.6 L406.0,336.7 L406.4,333.9 L406.9,331.3 L407.4,328.9 L407.8,326.7 L408.2,324.7 L408.5,323.1 L408.9,321.6 L409.2,320.3 L409.5,319.1 L409.9,317.9 L410.2,316.7 L410.6,315.4 L411.0,314.0 L411.5,312.6 L412.0,311.2 L412.4,309.8 L412.9,308.5 L413.4,307.2 L413.9,306.0 L414.4,305.0 L414.9,304.1 L415.3,303.3 L415.8,302.6 L416.2,302.0 L416.7,301.5 L417.2,301.0 L417.7,300.6 L418.2,300.2 L418.7,299.9 L419.3,299.7 L419.9,299.5 L420.5,299.4 L421.1,299.4 L421.7,299.4 L422.3,299.3 L422.9,299.3 L423.6,299.3 L424.3,299.2 L425.0,299.2 L425.7,299.2 L426.4,299.3 L427.1,299.3 L427.6,299.3 L428.0,299.3 L570.0,299.3 L570.3,299.3 L570.7,299.3 L571.2,299.3 L571.7,299.4 L572.3,299.3 L572.8,299.3 L573.4,299.1 L573.9,298.8 L574.4,298.5 L574.8,298.2 L575.3,297.9 L575.8,297.5 L576.2,297.0 L576.7,296.2 L577.3,295.2 L577.8,293.8 L578.4,291.9 L579.0,289.8 L579.7,287.3 L580.3,284.6 L581.0,281.8 L581.7,278.8 L582.3,275.9 L583.0,272.9 L583.6,269.9 L584.3,266.9 L585.0,263.7 L585.6,260.5 L586.2,257.2 L586.9,253.9 L587.6,250.4 L588.2,246.9 L588.9,243.1 L589.6,238.8 L590.4,234.3 L591.1,229.9 L591.8,225.6 L592.5,221.7 L593.0,218.5 L593.4,216.1" fill="none" stroke="#ff0000" stroke-width="1.5"/>
<path d="M397.8,216.3 H605.3 V382.3 H397.8 Z" fill="none" stroke="#5a5a5a" stroke-width="1.3"/>
<path d="M423.7,382.3 V379.3 M449.7,382.3 V377.3 M475.6,382.3 V379.3 M501.5,382.3 V377.3 M527.5,382.3 V379.3 M553.4,382.3 V377.3 M579.4,382.3 V379.3 M397.8,237.1 H400.8 M397.8,257.8 H402.8 M397.8,278.6 H400.8 M397.8,299.3 H402.8 M397.8,320.1 H400.8 M397.8,340.8 H402.8 M397.8,361.6 H400.8 " stroke="#5a5a5a" stroke-width="1.2"/>
<text x="391" y="221.0" font-size="14.5" font-weight="bold" fill="#111" text-anchor="end" letter-spacing="-0.3">2</text>
<text x="391" y="262.5" font-size="14.5" font-weight="bold" fill="#111" text-anchor="end" letter-spacing="-0.3">1</text>
<text x="391" y="304.0" font-size="14.5" font-weight="bold" fill="#111" text-anchor="end" letter-spacing="-0.3">0</text>
<text x="391" y="345.5" font-size="14.5" font-weight="bold" fill="#111" text-anchor="end" letter-spacing="-0.3">-1</text>
<text x="391" y="387.0" font-size="14.5" font-weight="bold" fill="#111" text-anchor="end" letter-spacing="-0.3">-2</text>
<text x="398.3" y="396.2" font-size="14" font-weight="bold" fill="#111" text-anchor="middle" letter-spacing="-0.3">-1.0</text>
<text x="450.2" y="396.2" font-size="14" font-weight="bold" fill="#111" text-anchor="middle" letter-spacing="-0.3">-0.5</text>
<text x="502.0" y="396.2" font-size="14" font-weight="bold" fill="#111" text-anchor="middle" letter-spacing="-0.3">0.0</text>
<text x="553.9" y="396.2" font-size="14" font-weight="bold" fill="#111" text-anchor="middle" letter-spacing="-0.3">0.5</text>
<text x="605.8" y="396.2" font-size="14" font-weight="bold" fill="#111" text-anchor="middle" letter-spacing="-0.3">1.0</text>
<text x="474" y="418.3" font-size="16" font-weight="bold" fill="#111">Δ<tspan font-style="italic">I</tspan> / mA</text>
<g transform="translate(363.4,346.6) rotate(-90)" fill="#111" stroke="#111" stroke-width="0.3" font-size="16.4"><text x="-0.2" y="0">Δ</text><text x="10.8" y="0">V</text><text x="25.6" y="0">/</text><text x="36.6" y="0">μ</text><text x="46.6" y="0">V</text></g>
</svg></div></body></html>
